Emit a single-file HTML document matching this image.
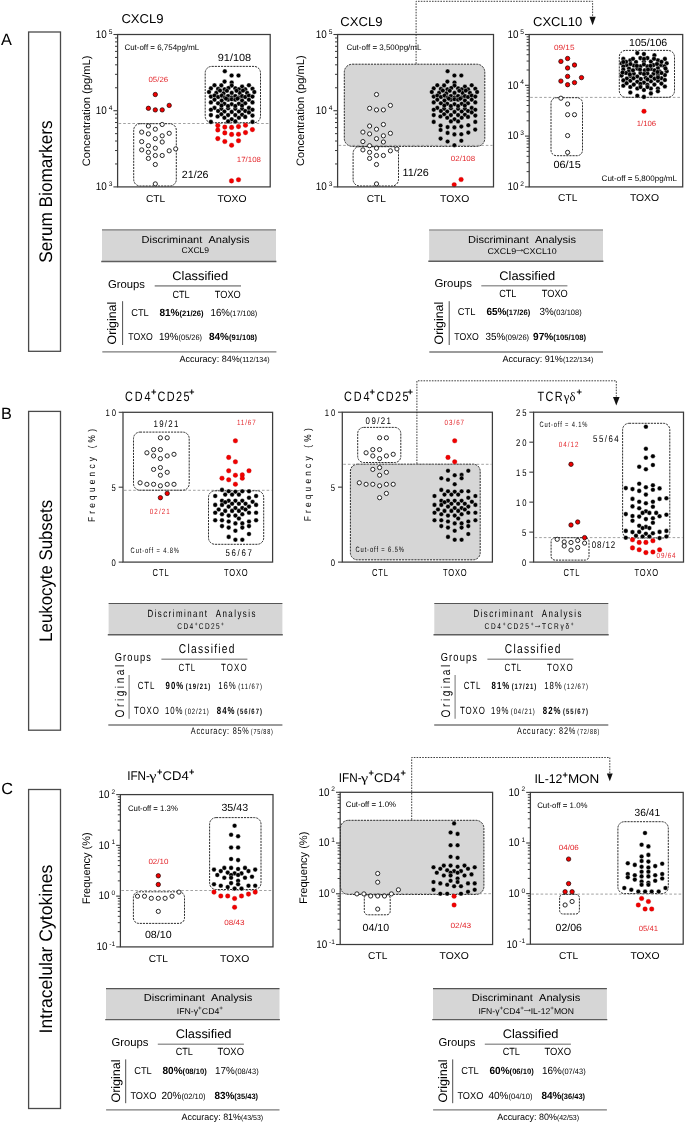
<!DOCTYPE html><html><head><meta charset="utf-8"><style>html,body{margin:0;padding:0;background:#fff;width:685px;height:1124px;overflow:hidden}svg{display:block;will-change:transform}text{font-family:"Liberation Sans", sans-serif;text-rendering:geometricPrecision}</style></head><body>
<svg width="685" height="1124" viewBox="0 0 685 1124">
<rect width="685" height="1124" fill="#fff"/>
<text x="1.00" y="45.10" font-size="16.3">A</text>
<text x="1.00" y="419.40" font-size="16.3">B</text>
<text x="1.20" y="793.90" font-size="16.3">C</text>
<rect x="28.60" y="32.00" width="31.90" height="319.30" fill="none" stroke="#4a4a4a" stroke-width="1.3"/>
<text transform="translate(52.00,191.65) rotate(-90)" x="0" y="0" font-size="18.2" text-anchor="middle" textLength="142.30" lengthAdjust="spacingAndGlyphs">Serum Biomarkers</text>
<rect x="28.60" y="411.40" width="31.90" height="318.80" fill="none" stroke="#4a4a4a" stroke-width="1.3"/>
<text transform="translate(52.00,570.80) rotate(-90)" x="0" y="0" font-size="18.2" text-anchor="middle" textLength="142.00" lengthAdjust="spacingAndGlyphs">Leukocyte Subsets</text>
<rect x="28.60" y="789.50" width="31.90" height="319.00" fill="none" stroke="#4a4a4a" stroke-width="1.3"/>
<text transform="translate(52.00,949.00) rotate(-90)" x="0" y="0" font-size="18.2" text-anchor="middle" textLength="168.80" lengthAdjust="spacingAndGlyphs">Intracelular Cytokines</text>
<text x="121.40" y="22.90" font-size="12.8" textLength="42.20" lengthAdjust="spacingAndGlyphs">CXCL9</text>
<text transform="translate(89.90,110.90) rotate(-90)" x="0" y="0" font-size="10.8" text-anchor="middle" textLength="110.60" lengthAdjust="spacingAndGlyphs">Concentration (pg/mL)</text>
<text x="124.40" y="49.60" font-size="8.0" textLength="74.80" lengthAdjust="spacingAndGlyphs">Cut-off = 6,754pg/mL</text>
<line x1="118.60" y1="123.50" x2="269.20" y2="123.50" stroke="#8a8a8a" stroke-width="0.8" stroke-dasharray="2.6,2"/>
<rect x="133.70" y="123.70" width="42.60" height="62.30" fill="none" stroke="#222" stroke-width="0.95" rx="6.5" stroke-dasharray="2.1,1.0"/>
<rect x="205.20" y="66.40" width="55.30" height="56.30" fill="none" stroke="#222" stroke-width="0.95" rx="6.5" stroke-dasharray="2.1,1.0"/>
<circle cx="148.4" cy="126.0" r="2.1" fill="#fff" stroke="#262626" stroke-width="1.0"/>
<circle cx="155.3" cy="129.2" r="2.1" fill="#fff" stroke="#262626" stroke-width="1.0"/>
<circle cx="162.2" cy="124.5" r="2.1" fill="#fff" stroke="#262626" stroke-width="1.0"/>
<circle cx="141.7" cy="132.1" r="2.1" fill="#fff" stroke="#262626" stroke-width="1.0"/>
<circle cx="148.4" cy="133.9" r="2.1" fill="#fff" stroke="#262626" stroke-width="1.0"/>
<circle cx="162.2" cy="135.8" r="2.1" fill="#fff" stroke="#262626" stroke-width="1.0"/>
<circle cx="169.2" cy="133.3" r="2.1" fill="#fff" stroke="#262626" stroke-width="1.0"/>
<circle cx="155.3" cy="138.7" r="2.1" fill="#fff" stroke="#262626" stroke-width="1.0"/>
<circle cx="141.7" cy="141.6" r="2.1" fill="#fff" stroke="#262626" stroke-width="1.0"/>
<circle cx="162.2" cy="142.0" r="2.1" fill="#fff" stroke="#262626" stroke-width="1.0"/>
<circle cx="148.4" cy="145.7" r="2.1" fill="#fff" stroke="#262626" stroke-width="1.0"/>
<circle cx="155.3" cy="148.2" r="2.1" fill="#fff" stroke="#262626" stroke-width="1.0"/>
<circle cx="141.7" cy="149.9" r="2.1" fill="#fff" stroke="#262626" stroke-width="1.0"/>
<circle cx="169.2" cy="150.8" r="2.1" fill="#fff" stroke="#262626" stroke-width="1.0"/>
<circle cx="175.7" cy="148.9" r="2.1" fill="#fff" stroke="#262626" stroke-width="1.0"/>
<circle cx="148.4" cy="152.3" r="2.1" fill="#fff" stroke="#262626" stroke-width="1.0"/>
<circle cx="155.3" cy="155.5" r="2.1" fill="#fff" stroke="#262626" stroke-width="1.0"/>
<circle cx="162.2" cy="155.5" r="2.1" fill="#fff" stroke="#262626" stroke-width="1.0"/>
<circle cx="148.4" cy="158.4" r="2.1" fill="#fff" stroke="#262626" stroke-width="1.0"/>
<circle cx="155.3" cy="164.5" r="2.1" fill="#fff" stroke="#262626" stroke-width="1.0"/>
<circle cx="155.3" cy="183.9" r="2.1" fill="#fff" stroke="#262626" stroke-width="1.0"/>
<circle cx="155.3" cy="94.5" r="2.2" fill="#f40000" stroke="#1a0000" stroke-width="0.7"/>
<circle cx="148.4" cy="108.3" r="2.2" fill="#f40000" stroke="#1a0000" stroke-width="0.7"/>
<circle cx="155.3" cy="109.9" r="2.2" fill="#f40000" stroke="#1a0000" stroke-width="0.7"/>
<circle cx="162.2" cy="109.9" r="2.2" fill="#f40000" stroke="#1a0000" stroke-width="0.7"/>
<circle cx="169.2" cy="105.4" r="2.2" fill="#f40000" stroke="#1a0000" stroke-width="0.7"/>
<circle cx="224.8" cy="71.2" r="2.3" fill="#000" stroke="#fff" stroke-width="0.35"/>
<circle cx="231.6" cy="75.5" r="2.3" fill="#000" stroke="#fff" stroke-width="0.35"/>
<circle cx="238.5" cy="75.5" r="2.3" fill="#000" stroke="#fff" stroke-width="0.35"/>
<circle cx="224.6" cy="81.6" r="2.3" fill="#000" stroke="#fff" stroke-width="0.35"/>
<circle cx="231.7" cy="82.5" r="2.3" fill="#000" stroke="#fff" stroke-width="0.35"/>
<circle cx="214.5" cy="85.2" r="2.3" fill="#000" stroke="#fff" stroke-width="0.35"/>
<circle cx="221.3" cy="85.4" r="2.3" fill="#000" stroke="#fff" stroke-width="0.35"/>
<circle cx="231.7" cy="85.6" r="2.3" fill="#000" stroke="#fff" stroke-width="0.35"/>
<circle cx="242.1" cy="86.6" r="2.3" fill="#000" stroke="#fff" stroke-width="0.35"/>
<circle cx="248.9" cy="85.2" r="2.3" fill="#000" stroke="#fff" stroke-width="0.35"/>
<circle cx="210.9" cy="88.4" r="2.3" fill="#000" stroke="#fff" stroke-width="0.35"/>
<circle cx="218.1" cy="88.9" r="2.3" fill="#000" stroke="#fff" stroke-width="0.35"/>
<circle cx="224.6" cy="89.3" r="2.3" fill="#000" stroke="#fff" stroke-width="0.35"/>
<circle cx="228.5" cy="88.0" r="2.3" fill="#000" stroke="#fff" stroke-width="0.35"/>
<circle cx="235.3" cy="88.4" r="2.3" fill="#000" stroke="#fff" stroke-width="0.35"/>
<circle cx="238.9" cy="89.3" r="2.3" fill="#000" stroke="#fff" stroke-width="0.35"/>
<circle cx="245.2" cy="89.3" r="2.3" fill="#000" stroke="#fff" stroke-width="0.35"/>
<circle cx="252.5" cy="88.7" r="2.3" fill="#000" stroke="#fff" stroke-width="0.35"/>
<circle cx="209.0" cy="92.0" r="2.3" fill="#000" stroke="#fff" stroke-width="0.35"/>
<circle cx="216.3" cy="92.9" r="2.3" fill="#000" stroke="#fff" stroke-width="0.35"/>
<circle cx="223.5" cy="93.4" r="2.3" fill="#000" stroke="#fff" stroke-width="0.35"/>
<circle cx="231.7" cy="92.9" r="2.3" fill="#000" stroke="#fff" stroke-width="0.35"/>
<circle cx="239.8" cy="92.9" r="2.3" fill="#000" stroke="#fff" stroke-width="0.35"/>
<circle cx="247.1" cy="92.9" r="2.3" fill="#000" stroke="#fff" stroke-width="0.35"/>
<circle cx="254.3" cy="92.0" r="2.3" fill="#000" stroke="#fff" stroke-width="0.35"/>
<circle cx="210.9" cy="96.6" r="2.3" fill="#000" stroke="#fff" stroke-width="0.35"/>
<circle cx="214.5" cy="95.6" r="2.3" fill="#000" stroke="#fff" stroke-width="0.35"/>
<circle cx="218.1" cy="97.0" r="2.3" fill="#000" stroke="#fff" stroke-width="0.35"/>
<circle cx="221.7" cy="95.6" r="2.3" fill="#000" stroke="#fff" stroke-width="0.35"/>
<circle cx="224.9" cy="97.5" r="2.3" fill="#000" stroke="#fff" stroke-width="0.35"/>
<circle cx="228.1" cy="96.1" r="2.3" fill="#000" stroke="#fff" stroke-width="0.35"/>
<circle cx="231.7" cy="97.5" r="2.3" fill="#000" stroke="#fff" stroke-width="0.35"/>
<circle cx="235.3" cy="96.1" r="2.3" fill="#000" stroke="#fff" stroke-width="0.35"/>
<circle cx="238.9" cy="97.5" r="2.3" fill="#000" stroke="#fff" stroke-width="0.35"/>
<circle cx="242.1" cy="96.1" r="2.3" fill="#000" stroke="#fff" stroke-width="0.35"/>
<circle cx="245.2" cy="97.0" r="2.3" fill="#000" stroke="#fff" stroke-width="0.35"/>
<circle cx="248.9" cy="95.6" r="2.3" fill="#000" stroke="#fff" stroke-width="0.35"/>
<circle cx="252.5" cy="96.6" r="2.3" fill="#000" stroke="#fff" stroke-width="0.35"/>
<circle cx="214.5" cy="99.7" r="2.3" fill="#000" stroke="#fff" stroke-width="0.35"/>
<circle cx="221.7" cy="100.6" r="2.3" fill="#000" stroke="#fff" stroke-width="0.35"/>
<circle cx="228.1" cy="99.7" r="2.3" fill="#000" stroke="#fff" stroke-width="0.35"/>
<circle cx="231.7" cy="99.3" r="2.3" fill="#000" stroke="#fff" stroke-width="0.35"/>
<circle cx="235.3" cy="99.7" r="2.3" fill="#000" stroke="#fff" stroke-width="0.35"/>
<circle cx="242.1" cy="100.6" r="2.3" fill="#000" stroke="#fff" stroke-width="0.35"/>
<circle cx="248.9" cy="99.7" r="2.3" fill="#000" stroke="#fff" stroke-width="0.35"/>
<circle cx="210.9" cy="102.4" r="2.3" fill="#000" stroke="#fff" stroke-width="0.35"/>
<circle cx="218.1" cy="103.3" r="2.3" fill="#000" stroke="#fff" stroke-width="0.35"/>
<circle cx="224.4" cy="103.8" r="2.3" fill="#000" stroke="#fff" stroke-width="0.35"/>
<circle cx="231.7" cy="104.2" r="2.3" fill="#000" stroke="#fff" stroke-width="0.35"/>
<circle cx="238.9" cy="103.8" r="2.3" fill="#000" stroke="#fff" stroke-width="0.35"/>
<circle cx="245.2" cy="103.3" r="2.3" fill="#000" stroke="#fff" stroke-width="0.35"/>
<circle cx="252.5" cy="102.4" r="2.3" fill="#000" stroke="#fff" stroke-width="0.35"/>
<circle cx="214.5" cy="107.9" r="2.3" fill="#000" stroke="#fff" stroke-width="0.35"/>
<circle cx="221.3" cy="108.8" r="2.3" fill="#000" stroke="#fff" stroke-width="0.35"/>
<circle cx="228.1" cy="108.3" r="2.3" fill="#000" stroke="#fff" stroke-width="0.35"/>
<circle cx="235.3" cy="108.8" r="2.3" fill="#000" stroke="#fff" stroke-width="0.35"/>
<circle cx="242.1" cy="108.8" r="2.3" fill="#000" stroke="#fff" stroke-width="0.35"/>
<circle cx="248.9" cy="107.9" r="2.3" fill="#000" stroke="#fff" stroke-width="0.35"/>
<circle cx="210.9" cy="109.7" r="2.3" fill="#000" stroke="#fff" stroke-width="0.35"/>
<circle cx="218.1" cy="111.0" r="2.3" fill="#000" stroke="#fff" stroke-width="0.35"/>
<circle cx="224.4" cy="111.5" r="2.3" fill="#000" stroke="#fff" stroke-width="0.35"/>
<circle cx="231.7" cy="111.9" r="2.3" fill="#000" stroke="#fff" stroke-width="0.35"/>
<circle cx="238.9" cy="111.5" r="2.3" fill="#000" stroke="#fff" stroke-width="0.35"/>
<circle cx="245.2" cy="111.0" r="2.3" fill="#000" stroke="#fff" stroke-width="0.35"/>
<circle cx="252.5" cy="109.7" r="2.3" fill="#000" stroke="#fff" stroke-width="0.35"/>
<circle cx="221.3" cy="114.2" r="2.3" fill="#000" stroke="#fff" stroke-width="0.35"/>
<circle cx="228.1" cy="115.1" r="2.3" fill="#000" stroke="#fff" stroke-width="0.35"/>
<circle cx="235.3" cy="115.1" r="2.3" fill="#000" stroke="#fff" stroke-width="0.35"/>
<circle cx="242.1" cy="114.7" r="2.3" fill="#000" stroke="#fff" stroke-width="0.35"/>
<circle cx="248.9" cy="112.4" r="2.3" fill="#000" stroke="#fff" stroke-width="0.35"/>
<circle cx="210.9" cy="115.1" r="2.3" fill="#000" stroke="#fff" stroke-width="0.35"/>
<circle cx="217.6" cy="116.5" r="2.3" fill="#000" stroke="#fff" stroke-width="0.35"/>
<circle cx="224.4" cy="117.8" r="2.3" fill="#000" stroke="#fff" stroke-width="0.35"/>
<circle cx="231.7" cy="119.2" r="2.3" fill="#000" stroke="#fff" stroke-width="0.35"/>
<circle cx="238.9" cy="117.8" r="2.3" fill="#000" stroke="#fff" stroke-width="0.35"/>
<circle cx="245.2" cy="116.9" r="2.3" fill="#000" stroke="#fff" stroke-width="0.35"/>
<circle cx="252.5" cy="115.6" r="2.3" fill="#000" stroke="#fff" stroke-width="0.35"/>
<circle cx="210.9" cy="121.9" r="2.3" fill="#000" stroke="#fff" stroke-width="0.35"/>
<circle cx="228.1" cy="121.4" r="2.3" fill="#000" stroke="#fff" stroke-width="0.35"/>
<circle cx="235.3" cy="121.4" r="2.3" fill="#000" stroke="#fff" stroke-width="0.35"/>
<circle cx="252.5" cy="121.9" r="2.3" fill="#000" stroke="#fff" stroke-width="0.35"/>
<circle cx="226.9" cy="90.8" r="2.3" fill="#000" stroke="#fff" stroke-width="0.35"/>
<circle cx="236.5" cy="90.8" r="2.3" fill="#000" stroke="#fff" stroke-width="0.35"/>
<circle cx="220.0" cy="90.6" r="2.3" fill="#000" stroke="#fff" stroke-width="0.35"/>
<circle cx="243.0" cy="90.6" r="2.3" fill="#000" stroke="#fff" stroke-width="0.35"/>
<circle cx="226.0" cy="98.6" r="2.3" fill="#000" stroke="#fff" stroke-width="0.35"/>
<circle cx="237.5" cy="98.6" r="2.3" fill="#000" stroke="#fff" stroke-width="0.35"/>
<circle cx="228.0" cy="106.0" r="2.3" fill="#000" stroke="#fff" stroke-width="0.35"/>
<circle cx="235.3" cy="106.0" r="2.3" fill="#000" stroke="#fff" stroke-width="0.35"/>
<circle cx="221.5" cy="105.6" r="2.3" fill="#000" stroke="#fff" stroke-width="0.35"/>
<circle cx="242.0" cy="105.6" r="2.3" fill="#000" stroke="#fff" stroke-width="0.35"/>
<circle cx="217.8" cy="125.6" r="2.3" fill="#f20000" stroke="#b00000" stroke-width="0.3"/>
<circle cx="224.8" cy="127.1" r="2.3" fill="#f20000" stroke="#b00000" stroke-width="0.3"/>
<circle cx="231.6" cy="127.4" r="2.3" fill="#f20000" stroke="#b00000" stroke-width="0.3"/>
<circle cx="238.5" cy="126.6" r="2.3" fill="#f20000" stroke="#b00000" stroke-width="0.3"/>
<circle cx="245.5" cy="125.2" r="2.3" fill="#f20000" stroke="#b00000" stroke-width="0.3"/>
<circle cx="217.8" cy="130.0" r="2.3" fill="#f20000" stroke="#b00000" stroke-width="0.3"/>
<circle cx="252.4" cy="129.6" r="2.3" fill="#f20000" stroke="#b00000" stroke-width="0.3"/>
<circle cx="224.8" cy="132.9" r="2.3" fill="#f20000" stroke="#b00000" stroke-width="0.3"/>
<circle cx="231.6" cy="134.4" r="2.3" fill="#f20000" stroke="#b00000" stroke-width="0.3"/>
<circle cx="238.5" cy="134.2" r="2.3" fill="#f20000" stroke="#b00000" stroke-width="0.3"/>
<circle cx="245.5" cy="132.6" r="2.3" fill="#f20000" stroke="#b00000" stroke-width="0.3"/>
<circle cx="217.8" cy="138.6" r="2.3" fill="#f20000" stroke="#b00000" stroke-width="0.3"/>
<circle cx="224.8" cy="141.5" r="2.3" fill="#f20000" stroke="#b00000" stroke-width="0.3"/>
<circle cx="231.6" cy="145.2" r="2.3" fill="#f20000" stroke="#b00000" stroke-width="0.3"/>
<circle cx="238.5" cy="140.7" r="2.3" fill="#f20000" stroke="#b00000" stroke-width="0.3"/>
<circle cx="231.5" cy="180.9" r="2.3" fill="#f20000" stroke="#b00000" stroke-width="0.3"/>
<circle cx="238.5" cy="179.7" r="2.3" fill="#f20000" stroke="#b00000" stroke-width="0.3"/>
<text x="217.80" y="61.00" font-size="10.3" textLength="33.40" lengthAdjust="spacingAndGlyphs">91/108</text>
<text x="148.50" y="82.00" font-size="7.5" fill="#e3262b" textLength="19.60" lengthAdjust="spacingAndGlyphs">05/26</text>
<text x="181.80" y="177.70" font-size="10.5" textLength="26.70" lengthAdjust="spacingAndGlyphs">21/26</text>
<text x="236.80" y="162.00" font-size="7.5" fill="#e3262b" textLength="24.20" lengthAdjust="spacingAndGlyphs">17/108</text>
<rect x="117.60" y="34.50" width="152.60" height="152.40" fill="none" stroke="#3c3c3c" stroke-width="1.25"/>
<line x1="113.40" y1="186.90" x2="117.60" y2="186.90" stroke="#3c3c3c" stroke-width="1.1"/>
<text x="112.30" y="185.90" font-size="6.6" text-anchor="end">3</text>
<text x="106.80" y="190.20" font-size="11.0" text-anchor="end" textLength="11.00" lengthAdjust="spacingAndGlyphs">10</text>
<line x1="115.00" y1="163.96" x2="117.60" y2="163.96" stroke="#3c3c3c" stroke-width="1.0"/>
<line x1="115.00" y1="150.54" x2="117.60" y2="150.54" stroke="#3c3c3c" stroke-width="1.0"/>
<line x1="115.00" y1="141.02" x2="117.60" y2="141.02" stroke="#3c3c3c" stroke-width="1.0"/>
<line x1="115.00" y1="133.64" x2="117.60" y2="133.64" stroke="#3c3c3c" stroke-width="1.0"/>
<line x1="115.00" y1="127.60" x2="117.60" y2="127.60" stroke="#3c3c3c" stroke-width="1.0"/>
<line x1="115.00" y1="122.50" x2="117.60" y2="122.50" stroke="#3c3c3c" stroke-width="1.0"/>
<line x1="115.00" y1="118.08" x2="117.60" y2="118.08" stroke="#3c3c3c" stroke-width="1.0"/>
<line x1="115.00" y1="114.19" x2="117.60" y2="114.19" stroke="#3c3c3c" stroke-width="1.0"/>
<line x1="113.40" y1="110.70" x2="117.60" y2="110.70" stroke="#3c3c3c" stroke-width="1.1"/>
<text x="112.30" y="109.70" font-size="6.6" text-anchor="end">4</text>
<text x="106.80" y="114.00" font-size="11.0" text-anchor="end" textLength="11.00" lengthAdjust="spacingAndGlyphs">10</text>
<line x1="115.00" y1="87.76" x2="117.60" y2="87.76" stroke="#3c3c3c" stroke-width="1.0"/>
<line x1="115.00" y1="74.34" x2="117.60" y2="74.34" stroke="#3c3c3c" stroke-width="1.0"/>
<line x1="115.00" y1="64.82" x2="117.60" y2="64.82" stroke="#3c3c3c" stroke-width="1.0"/>
<line x1="115.00" y1="57.44" x2="117.60" y2="57.44" stroke="#3c3c3c" stroke-width="1.0"/>
<line x1="115.00" y1="51.40" x2="117.60" y2="51.40" stroke="#3c3c3c" stroke-width="1.0"/>
<line x1="115.00" y1="46.30" x2="117.60" y2="46.30" stroke="#3c3c3c" stroke-width="1.0"/>
<line x1="115.00" y1="41.88" x2="117.60" y2="41.88" stroke="#3c3c3c" stroke-width="1.0"/>
<line x1="115.00" y1="37.99" x2="117.60" y2="37.99" stroke="#3c3c3c" stroke-width="1.0"/>
<line x1="113.40" y1="34.50" x2="117.60" y2="34.50" stroke="#3c3c3c" stroke-width="1.1"/>
<text x="112.30" y="33.50" font-size="6.6" text-anchor="end">5</text>
<text x="106.80" y="37.80" font-size="11.0" text-anchor="end" textLength="11.00" lengthAdjust="spacingAndGlyphs">10</text>
<text x="155.50" y="201.60" font-size="10" text-anchor="middle" textLength="19.20" lengthAdjust="spacingAndGlyphs">CTL</text>
<text x="232.00" y="201.60" font-size="10" text-anchor="middle" textLength="29.20" lengthAdjust="spacingAndGlyphs">TOXO</text>
<rect x="344.30" y="64.20" width="140.50" height="82.20" fill="#d6d6d6" stroke="#222" stroke-width="0.95" rx="8" stroke-dasharray="2.1,1.0"/>
<text x="340.30" y="26.00" font-size="12.8" textLength="42.20" lengthAdjust="spacingAndGlyphs">CXCL9</text>
<text transform="translate(303.80,110.70) rotate(-90)" x="0" y="0" font-size="10.8" text-anchor="middle" textLength="110.60" lengthAdjust="spacingAndGlyphs">Concentration (pg/mL)</text>
<text x="346.40" y="49.60" font-size="8.0" textLength="75.00" lengthAdjust="spacingAndGlyphs">Cut-off = 3,500pg/mL</text>
<line x1="338.60" y1="145.40" x2="492.50" y2="145.40" stroke="#8a8a8a" stroke-width="0.8" stroke-dasharray="2.6,2"/>
<rect x="353.10" y="146.70" width="45.40" height="39.30" fill="none" stroke="#222" stroke-width="0.95" rx="6.5" stroke-dasharray="2.1,1.0"/>
<circle cx="369.6" cy="126.0" r="2.1" fill="#fff" stroke="#262626" stroke-width="1.0"/>
<circle cx="376.5" cy="129.2" r="2.1" fill="#fff" stroke="#262626" stroke-width="1.0"/>
<circle cx="383.4" cy="124.5" r="2.1" fill="#fff" stroke="#262626" stroke-width="1.0"/>
<circle cx="362.9" cy="132.1" r="2.1" fill="#fff" stroke="#262626" stroke-width="1.0"/>
<circle cx="369.6" cy="133.9" r="2.1" fill="#fff" stroke="#262626" stroke-width="1.0"/>
<circle cx="383.4" cy="135.8" r="2.1" fill="#fff" stroke="#262626" stroke-width="1.0"/>
<circle cx="390.4" cy="133.3" r="2.1" fill="#fff" stroke="#262626" stroke-width="1.0"/>
<circle cx="376.5" cy="138.7" r="2.1" fill="#fff" stroke="#262626" stroke-width="1.0"/>
<circle cx="362.9" cy="141.6" r="2.1" fill="#fff" stroke="#262626" stroke-width="1.0"/>
<circle cx="383.4" cy="142.0" r="2.1" fill="#fff" stroke="#262626" stroke-width="1.0"/>
<circle cx="369.6" cy="145.7" r="2.1" fill="#fff" stroke="#262626" stroke-width="1.0"/>
<circle cx="376.5" cy="148.2" r="2.1" fill="#fff" stroke="#262626" stroke-width="1.0"/>
<circle cx="362.9" cy="149.9" r="2.1" fill="#fff" stroke="#262626" stroke-width="1.0"/>
<circle cx="390.4" cy="150.8" r="2.1" fill="#fff" stroke="#262626" stroke-width="1.0"/>
<circle cx="396.9" cy="148.9" r="2.1" fill="#fff" stroke="#262626" stroke-width="1.0"/>
<circle cx="369.6" cy="152.3" r="2.1" fill="#fff" stroke="#262626" stroke-width="1.0"/>
<circle cx="376.5" cy="155.5" r="2.1" fill="#fff" stroke="#262626" stroke-width="1.0"/>
<circle cx="383.4" cy="155.5" r="2.1" fill="#fff" stroke="#262626" stroke-width="1.0"/>
<circle cx="369.6" cy="158.4" r="2.1" fill="#fff" stroke="#262626" stroke-width="1.0"/>
<circle cx="376.5" cy="164.5" r="2.1" fill="#fff" stroke="#262626" stroke-width="1.0"/>
<circle cx="376.5" cy="183.9" r="2.1" fill="#fff" stroke="#262626" stroke-width="1.0"/>
<circle cx="376.5" cy="94.5" r="2.1" fill="#fff" stroke="#262626" stroke-width="1.0"/>
<circle cx="369.6" cy="108.3" r="2.1" fill="#fff" stroke="#262626" stroke-width="1.0"/>
<circle cx="376.5" cy="109.9" r="2.1" fill="#fff" stroke="#262626" stroke-width="1.0"/>
<circle cx="383.4" cy="109.9" r="2.1" fill="#fff" stroke="#262626" stroke-width="1.0"/>
<circle cx="390.4" cy="105.4" r="2.1" fill="#fff" stroke="#262626" stroke-width="1.0"/>
<circle cx="447.6" cy="71.2" r="2.3" fill="#000" stroke="#fff" stroke-width="0.35"/>
<circle cx="454.4" cy="75.5" r="2.3" fill="#000" stroke="#fff" stroke-width="0.35"/>
<circle cx="461.3" cy="75.5" r="2.3" fill="#000" stroke="#fff" stroke-width="0.35"/>
<circle cx="447.4" cy="81.6" r="2.3" fill="#000" stroke="#fff" stroke-width="0.35"/>
<circle cx="454.5" cy="82.5" r="2.3" fill="#000" stroke="#fff" stroke-width="0.35"/>
<circle cx="437.3" cy="85.2" r="2.3" fill="#000" stroke="#fff" stroke-width="0.35"/>
<circle cx="444.1" cy="85.4" r="2.3" fill="#000" stroke="#fff" stroke-width="0.35"/>
<circle cx="454.5" cy="85.6" r="2.3" fill="#000" stroke="#fff" stroke-width="0.35"/>
<circle cx="464.9" cy="86.6" r="2.3" fill="#000" stroke="#fff" stroke-width="0.35"/>
<circle cx="471.7" cy="85.2" r="2.3" fill="#000" stroke="#fff" stroke-width="0.35"/>
<circle cx="433.7" cy="88.4" r="2.3" fill="#000" stroke="#fff" stroke-width="0.35"/>
<circle cx="440.9" cy="88.9" r="2.3" fill="#000" stroke="#fff" stroke-width="0.35"/>
<circle cx="447.4" cy="89.3" r="2.3" fill="#000" stroke="#fff" stroke-width="0.35"/>
<circle cx="451.3" cy="88.0" r="2.3" fill="#000" stroke="#fff" stroke-width="0.35"/>
<circle cx="458.1" cy="88.4" r="2.3" fill="#000" stroke="#fff" stroke-width="0.35"/>
<circle cx="461.7" cy="89.3" r="2.3" fill="#000" stroke="#fff" stroke-width="0.35"/>
<circle cx="468.0" cy="89.3" r="2.3" fill="#000" stroke="#fff" stroke-width="0.35"/>
<circle cx="475.3" cy="88.7" r="2.3" fill="#000" stroke="#fff" stroke-width="0.35"/>
<circle cx="431.8" cy="92.0" r="2.3" fill="#000" stroke="#fff" stroke-width="0.35"/>
<circle cx="439.1" cy="92.9" r="2.3" fill="#000" stroke="#fff" stroke-width="0.35"/>
<circle cx="446.3" cy="93.4" r="2.3" fill="#000" stroke="#fff" stroke-width="0.35"/>
<circle cx="454.5" cy="92.9" r="2.3" fill="#000" stroke="#fff" stroke-width="0.35"/>
<circle cx="462.6" cy="92.9" r="2.3" fill="#000" stroke="#fff" stroke-width="0.35"/>
<circle cx="469.9" cy="92.9" r="2.3" fill="#000" stroke="#fff" stroke-width="0.35"/>
<circle cx="477.1" cy="92.0" r="2.3" fill="#000" stroke="#fff" stroke-width="0.35"/>
<circle cx="433.7" cy="96.6" r="2.3" fill="#000" stroke="#fff" stroke-width="0.35"/>
<circle cx="437.3" cy="95.6" r="2.3" fill="#000" stroke="#fff" stroke-width="0.35"/>
<circle cx="440.9" cy="97.0" r="2.3" fill="#000" stroke="#fff" stroke-width="0.35"/>
<circle cx="444.5" cy="95.6" r="2.3" fill="#000" stroke="#fff" stroke-width="0.35"/>
<circle cx="447.7" cy="97.5" r="2.3" fill="#000" stroke="#fff" stroke-width="0.35"/>
<circle cx="450.9" cy="96.1" r="2.3" fill="#000" stroke="#fff" stroke-width="0.35"/>
<circle cx="454.5" cy="97.5" r="2.3" fill="#000" stroke="#fff" stroke-width="0.35"/>
<circle cx="458.1" cy="96.1" r="2.3" fill="#000" stroke="#fff" stroke-width="0.35"/>
<circle cx="461.7" cy="97.5" r="2.3" fill="#000" stroke="#fff" stroke-width="0.35"/>
<circle cx="464.9" cy="96.1" r="2.3" fill="#000" stroke="#fff" stroke-width="0.35"/>
<circle cx="468.0" cy="97.0" r="2.3" fill="#000" stroke="#fff" stroke-width="0.35"/>
<circle cx="471.7" cy="95.6" r="2.3" fill="#000" stroke="#fff" stroke-width="0.35"/>
<circle cx="475.3" cy="96.6" r="2.3" fill="#000" stroke="#fff" stroke-width="0.35"/>
<circle cx="437.3" cy="99.7" r="2.3" fill="#000" stroke="#fff" stroke-width="0.35"/>
<circle cx="444.5" cy="100.6" r="2.3" fill="#000" stroke="#fff" stroke-width="0.35"/>
<circle cx="450.9" cy="99.7" r="2.3" fill="#000" stroke="#fff" stroke-width="0.35"/>
<circle cx="454.5" cy="99.3" r="2.3" fill="#000" stroke="#fff" stroke-width="0.35"/>
<circle cx="458.1" cy="99.7" r="2.3" fill="#000" stroke="#fff" stroke-width="0.35"/>
<circle cx="464.9" cy="100.6" r="2.3" fill="#000" stroke="#fff" stroke-width="0.35"/>
<circle cx="471.7" cy="99.7" r="2.3" fill="#000" stroke="#fff" stroke-width="0.35"/>
<circle cx="433.7" cy="102.4" r="2.3" fill="#000" stroke="#fff" stroke-width="0.35"/>
<circle cx="440.9" cy="103.3" r="2.3" fill="#000" stroke="#fff" stroke-width="0.35"/>
<circle cx="447.2" cy="103.8" r="2.3" fill="#000" stroke="#fff" stroke-width="0.35"/>
<circle cx="454.5" cy="104.2" r="2.3" fill="#000" stroke="#fff" stroke-width="0.35"/>
<circle cx="461.7" cy="103.8" r="2.3" fill="#000" stroke="#fff" stroke-width="0.35"/>
<circle cx="468.0" cy="103.3" r="2.3" fill="#000" stroke="#fff" stroke-width="0.35"/>
<circle cx="475.3" cy="102.4" r="2.3" fill="#000" stroke="#fff" stroke-width="0.35"/>
<circle cx="437.3" cy="107.9" r="2.3" fill="#000" stroke="#fff" stroke-width="0.35"/>
<circle cx="444.1" cy="108.8" r="2.3" fill="#000" stroke="#fff" stroke-width="0.35"/>
<circle cx="450.9" cy="108.3" r="2.3" fill="#000" stroke="#fff" stroke-width="0.35"/>
<circle cx="458.1" cy="108.8" r="2.3" fill="#000" stroke="#fff" stroke-width="0.35"/>
<circle cx="464.9" cy="108.8" r="2.3" fill="#000" stroke="#fff" stroke-width="0.35"/>
<circle cx="471.7" cy="107.9" r="2.3" fill="#000" stroke="#fff" stroke-width="0.35"/>
<circle cx="433.7" cy="109.7" r="2.3" fill="#000" stroke="#fff" stroke-width="0.35"/>
<circle cx="440.9" cy="111.0" r="2.3" fill="#000" stroke="#fff" stroke-width="0.35"/>
<circle cx="447.2" cy="111.5" r="2.3" fill="#000" stroke="#fff" stroke-width="0.35"/>
<circle cx="454.5" cy="111.9" r="2.3" fill="#000" stroke="#fff" stroke-width="0.35"/>
<circle cx="461.7" cy="111.5" r="2.3" fill="#000" stroke="#fff" stroke-width="0.35"/>
<circle cx="468.0" cy="111.0" r="2.3" fill="#000" stroke="#fff" stroke-width="0.35"/>
<circle cx="475.3" cy="109.7" r="2.3" fill="#000" stroke="#fff" stroke-width="0.35"/>
<circle cx="444.1" cy="114.2" r="2.3" fill="#000" stroke="#fff" stroke-width="0.35"/>
<circle cx="450.9" cy="115.1" r="2.3" fill="#000" stroke="#fff" stroke-width="0.35"/>
<circle cx="458.1" cy="115.1" r="2.3" fill="#000" stroke="#fff" stroke-width="0.35"/>
<circle cx="464.9" cy="114.7" r="2.3" fill="#000" stroke="#fff" stroke-width="0.35"/>
<circle cx="471.7" cy="112.4" r="2.3" fill="#000" stroke="#fff" stroke-width="0.35"/>
<circle cx="433.7" cy="115.1" r="2.3" fill="#000" stroke="#fff" stroke-width="0.35"/>
<circle cx="440.4" cy="116.5" r="2.3" fill="#000" stroke="#fff" stroke-width="0.35"/>
<circle cx="447.2" cy="117.8" r="2.3" fill="#000" stroke="#fff" stroke-width="0.35"/>
<circle cx="454.5" cy="119.2" r="2.3" fill="#000" stroke="#fff" stroke-width="0.35"/>
<circle cx="461.7" cy="117.8" r="2.3" fill="#000" stroke="#fff" stroke-width="0.35"/>
<circle cx="468.0" cy="116.9" r="2.3" fill="#000" stroke="#fff" stroke-width="0.35"/>
<circle cx="475.3" cy="115.6" r="2.3" fill="#000" stroke="#fff" stroke-width="0.35"/>
<circle cx="433.7" cy="121.9" r="2.3" fill="#000" stroke="#fff" stroke-width="0.35"/>
<circle cx="450.9" cy="121.4" r="2.3" fill="#000" stroke="#fff" stroke-width="0.35"/>
<circle cx="458.1" cy="121.4" r="2.3" fill="#000" stroke="#fff" stroke-width="0.35"/>
<circle cx="475.3" cy="121.9" r="2.3" fill="#000" stroke="#fff" stroke-width="0.35"/>
<circle cx="449.7" cy="90.8" r="2.3" fill="#000" stroke="#fff" stroke-width="0.35"/>
<circle cx="459.3" cy="90.8" r="2.3" fill="#000" stroke="#fff" stroke-width="0.35"/>
<circle cx="442.8" cy="90.6" r="2.3" fill="#000" stroke="#fff" stroke-width="0.35"/>
<circle cx="465.8" cy="90.6" r="2.3" fill="#000" stroke="#fff" stroke-width="0.35"/>
<circle cx="448.8" cy="98.6" r="2.3" fill="#000" stroke="#fff" stroke-width="0.35"/>
<circle cx="460.3" cy="98.6" r="2.3" fill="#000" stroke="#fff" stroke-width="0.35"/>
<circle cx="450.8" cy="106.0" r="2.3" fill="#000" stroke="#fff" stroke-width="0.35"/>
<circle cx="458.1" cy="106.0" r="2.3" fill="#000" stroke="#fff" stroke-width="0.35"/>
<circle cx="444.3" cy="105.6" r="2.3" fill="#000" stroke="#fff" stroke-width="0.35"/>
<circle cx="464.8" cy="105.6" r="2.3" fill="#000" stroke="#fff" stroke-width="0.35"/>
<circle cx="440.6" cy="125.6" r="2.3" fill="#000" stroke="#fff" stroke-width="0.35"/>
<circle cx="447.6" cy="127.1" r="2.3" fill="#000" stroke="#fff" stroke-width="0.35"/>
<circle cx="454.4" cy="127.4" r="2.3" fill="#000" stroke="#fff" stroke-width="0.35"/>
<circle cx="461.3" cy="126.6" r="2.3" fill="#000" stroke="#fff" stroke-width="0.35"/>
<circle cx="468.3" cy="125.2" r="2.3" fill="#000" stroke="#fff" stroke-width="0.35"/>
<circle cx="440.6" cy="130.0" r="2.3" fill="#000" stroke="#fff" stroke-width="0.35"/>
<circle cx="475.2" cy="129.6" r="2.3" fill="#000" stroke="#fff" stroke-width="0.35"/>
<circle cx="447.6" cy="132.9" r="2.3" fill="#000" stroke="#fff" stroke-width="0.35"/>
<circle cx="454.4" cy="134.4" r="2.3" fill="#000" stroke="#fff" stroke-width="0.35"/>
<circle cx="461.3" cy="134.2" r="2.3" fill="#000" stroke="#fff" stroke-width="0.35"/>
<circle cx="468.3" cy="132.6" r="2.3" fill="#000" stroke="#fff" stroke-width="0.35"/>
<circle cx="440.6" cy="138.6" r="2.3" fill="#000" stroke="#fff" stroke-width="0.35"/>
<circle cx="447.6" cy="141.5" r="2.3" fill="#000" stroke="#fff" stroke-width="0.35"/>
<circle cx="454.4" cy="145.2" r="2.3" fill="#000" stroke="#fff" stroke-width="0.35"/>
<circle cx="461.3" cy="140.7" r="2.3" fill="#000" stroke="#fff" stroke-width="0.35"/>
<circle cx="454.2" cy="184.7" r="2.3" fill="#f20000" stroke="#b00000" stroke-width="0.3"/>
<circle cx="461.1" cy="179.5" r="2.3" fill="#f20000" stroke="#b00000" stroke-width="0.3"/>
<text x="402.60" y="176.40" font-size="10.5" textLength="26.30" lengthAdjust="spacingAndGlyphs">11/26</text>
<text x="450.80" y="161.40" font-size="7.5" fill="#e3262b" textLength="24.40" lengthAdjust="spacingAndGlyphs">02/108</text>
<rect x="337.60" y="34.50" width="155.90" height="152.40" fill="none" stroke="#3c3c3c" stroke-width="1.25"/>
<line x1="333.40" y1="186.90" x2="337.60" y2="186.90" stroke="#3c3c3c" stroke-width="1.1"/>
<text x="332.30" y="185.90" font-size="6.6" text-anchor="end">3</text>
<text x="326.80" y="190.20" font-size="11.0" text-anchor="end" textLength="11.00" lengthAdjust="spacingAndGlyphs">10</text>
<line x1="335.00" y1="163.96" x2="337.60" y2="163.96" stroke="#3c3c3c" stroke-width="1.0"/>
<line x1="335.00" y1="150.54" x2="337.60" y2="150.54" stroke="#3c3c3c" stroke-width="1.0"/>
<line x1="335.00" y1="141.02" x2="337.60" y2="141.02" stroke="#3c3c3c" stroke-width="1.0"/>
<line x1="335.00" y1="133.64" x2="337.60" y2="133.64" stroke="#3c3c3c" stroke-width="1.0"/>
<line x1="335.00" y1="127.60" x2="337.60" y2="127.60" stroke="#3c3c3c" stroke-width="1.0"/>
<line x1="335.00" y1="122.50" x2="337.60" y2="122.50" stroke="#3c3c3c" stroke-width="1.0"/>
<line x1="335.00" y1="118.08" x2="337.60" y2="118.08" stroke="#3c3c3c" stroke-width="1.0"/>
<line x1="335.00" y1="114.19" x2="337.60" y2="114.19" stroke="#3c3c3c" stroke-width="1.0"/>
<line x1="333.40" y1="110.70" x2="337.60" y2="110.70" stroke="#3c3c3c" stroke-width="1.1"/>
<text x="332.30" y="109.70" font-size="6.6" text-anchor="end">4</text>
<text x="326.80" y="114.00" font-size="11.0" text-anchor="end" textLength="11.00" lengthAdjust="spacingAndGlyphs">10</text>
<line x1="335.00" y1="87.76" x2="337.60" y2="87.76" stroke="#3c3c3c" stroke-width="1.0"/>
<line x1="335.00" y1="74.34" x2="337.60" y2="74.34" stroke="#3c3c3c" stroke-width="1.0"/>
<line x1="335.00" y1="64.82" x2="337.60" y2="64.82" stroke="#3c3c3c" stroke-width="1.0"/>
<line x1="335.00" y1="57.44" x2="337.60" y2="57.44" stroke="#3c3c3c" stroke-width="1.0"/>
<line x1="335.00" y1="51.40" x2="337.60" y2="51.40" stroke="#3c3c3c" stroke-width="1.0"/>
<line x1="335.00" y1="46.30" x2="337.60" y2="46.30" stroke="#3c3c3c" stroke-width="1.0"/>
<line x1="335.00" y1="41.88" x2="337.60" y2="41.88" stroke="#3c3c3c" stroke-width="1.0"/>
<line x1="335.00" y1="37.99" x2="337.60" y2="37.99" stroke="#3c3c3c" stroke-width="1.0"/>
<line x1="333.40" y1="34.50" x2="337.60" y2="34.50" stroke="#3c3c3c" stroke-width="1.1"/>
<text x="332.30" y="33.50" font-size="6.6" text-anchor="end">5</text>
<text x="326.80" y="37.80" font-size="11.0" text-anchor="end" textLength="11.00" lengthAdjust="spacingAndGlyphs">10</text>
<text x="376.30" y="201.60" font-size="10" text-anchor="middle" textLength="19.20" lengthAdjust="spacingAndGlyphs">CTL</text>
<text x="454.60" y="201.60" font-size="10" text-anchor="middle" textLength="29.20" lengthAdjust="spacingAndGlyphs">TOXO</text>
<path d="M416.10,63.80 L416.10,1.30 L592.60,1.30 L592.60,16.60" fill="none" stroke="#2a2a2a" stroke-width="0.9" stroke-dasharray="1.6,1.2"/>
<path d="M589.50,16.80 L595.70,16.80 L592.60,25.20 Z" fill="#111"/>
<text x="533.00" y="25.50" font-size="12.8" textLength="49.30" lengthAdjust="spacingAndGlyphs">CXCL10</text>
<text x="601.60" y="180.80" font-size="8.0" textLength="75.40" lengthAdjust="spacingAndGlyphs">Cut-off = 5,800pg/mL</text>
<line x1="530.20" y1="97.40" x2="681.70" y2="97.40" stroke="#8a8a8a" stroke-width="0.8" stroke-dasharray="2.6,2"/>
<rect x="551.00" y="97.70" width="31.50" height="58.00" fill="none" stroke="#222" stroke-width="0.95" rx="5.46" stroke-dasharray="2.1,1.0"/>
<rect x="619.30" y="50.40" width="55.20" height="46.90" fill="none" stroke="#222" stroke-width="0.95" rx="6.5" stroke-dasharray="2.1,1.0"/>
<circle cx="560.9" cy="98.2" r="2.1" fill="#fff" stroke="#262626" stroke-width="1.0"/>
<circle cx="567.6" cy="104.0" r="2.1" fill="#fff" stroke="#262626" stroke-width="1.0"/>
<circle cx="567.6" cy="114.7" r="2.1" fill="#fff" stroke="#262626" stroke-width="1.0"/>
<circle cx="574.5" cy="114.7" r="2.1" fill="#fff" stroke="#262626" stroke-width="1.0"/>
<circle cx="567.6" cy="135.6" r="2.1" fill="#fff" stroke="#262626" stroke-width="1.0"/>
<circle cx="567.6" cy="152.4" r="2.1" fill="#fff" stroke="#262626" stroke-width="1.0"/>
<circle cx="560.9" cy="61.4" r="2.2" fill="#f40000" stroke="#1a0000" stroke-width="0.7"/>
<circle cx="567.6" cy="58.5" r="2.2" fill="#f40000" stroke="#1a0000" stroke-width="0.7"/>
<circle cx="574.5" cy="65.0" r="2.2" fill="#f40000" stroke="#1a0000" stroke-width="0.7"/>
<circle cx="567.6" cy="68.0" r="2.2" fill="#f40000" stroke="#1a0000" stroke-width="0.7"/>
<circle cx="567.6" cy="76.4" r="2.2" fill="#f40000" stroke="#1a0000" stroke-width="0.7"/>
<circle cx="581.5" cy="77.6" r="2.2" fill="#f40000" stroke="#1a0000" stroke-width="0.7"/>
<circle cx="560.9" cy="81.1" r="2.2" fill="#f40000" stroke="#1a0000" stroke-width="0.7"/>
<circle cx="574.5" cy="82.6" r="2.2" fill="#f40000" stroke="#1a0000" stroke-width="0.7"/>
<circle cx="567.6" cy="84.7" r="2.2" fill="#f40000" stroke="#1a0000" stroke-width="0.7"/>
<circle cx="637.3" cy="53.1" r="2.3" fill="#000" stroke="#fff" stroke-width="0.35"/>
<circle cx="643.9" cy="54.0" r="2.3" fill="#000" stroke="#fff" stroke-width="0.35"/>
<circle cx="654.4" cy="55.2" r="2.3" fill="#000" stroke="#fff" stroke-width="0.35"/>
<circle cx="623.3" cy="58.9" r="2.3" fill="#000" stroke="#fff" stroke-width="0.35"/>
<circle cx="630.3" cy="60.3" r="2.3" fill="#000" stroke="#fff" stroke-width="0.35"/>
<circle cx="640.4" cy="58.1" r="2.3" fill="#000" stroke="#fff" stroke-width="0.35"/>
<circle cx="647.4" cy="58.1" r="2.3" fill="#000" stroke="#fff" stroke-width="0.35"/>
<circle cx="657.9" cy="60.3" r="2.3" fill="#000" stroke="#fff" stroke-width="0.35"/>
<circle cx="664.9" cy="58.9" r="2.3" fill="#000" stroke="#fff" stroke-width="0.35"/>
<circle cx="636.0" cy="62.0" r="2.3" fill="#000" stroke="#fff" stroke-width="0.35"/>
<circle cx="643.9" cy="61.6" r="2.3" fill="#000" stroke="#fff" stroke-width="0.35"/>
<circle cx="650.9" cy="61.6" r="2.3" fill="#000" stroke="#fff" stroke-width="0.35"/>
<circle cx="621.6" cy="63.3" r="2.3" fill="#000" stroke="#fff" stroke-width="0.35"/>
<circle cx="666.7" cy="63.3" r="2.3" fill="#000" stroke="#fff" stroke-width="0.35"/>
<circle cx="626.8" cy="65.1" r="2.3" fill="#000" stroke="#fff" stroke-width="0.35"/>
<circle cx="633.8" cy="65.5" r="2.3" fill="#000" stroke="#fff" stroke-width="0.35"/>
<circle cx="640.4" cy="66.4" r="2.3" fill="#000" stroke="#fff" stroke-width="0.35"/>
<circle cx="647.4" cy="66.4" r="2.3" fill="#000" stroke="#fff" stroke-width="0.35"/>
<circle cx="653.5" cy="65.1" r="2.3" fill="#000" stroke="#fff" stroke-width="0.35"/>
<circle cx="661.0" cy="65.1" r="2.3" fill="#000" stroke="#fff" stroke-width="0.35"/>
<circle cx="664.5" cy="66.4" r="2.3" fill="#000" stroke="#fff" stroke-width="0.35"/>
<circle cx="623.3" cy="66.4" r="2.3" fill="#000" stroke="#fff" stroke-width="0.35"/>
<circle cx="637.3" cy="68.6" r="2.3" fill="#000" stroke="#fff" stroke-width="0.35"/>
<circle cx="650.9" cy="69.0" r="2.3" fill="#000" stroke="#fff" stroke-width="0.35"/>
<circle cx="629.0" cy="68.6" r="2.3" fill="#000" stroke="#fff" stroke-width="0.35"/>
<circle cx="657.9" cy="68.1" r="2.3" fill="#000" stroke="#fff" stroke-width="0.35"/>
<circle cx="623.3" cy="69.5" r="2.3" fill="#000" stroke="#fff" stroke-width="0.35"/>
<circle cx="666.7" cy="71.2" r="2.3" fill="#000" stroke="#fff" stroke-width="0.35"/>
<circle cx="644.8" cy="70.3" r="2.3" fill="#000" stroke="#fff" stroke-width="0.35"/>
<circle cx="628.6" cy="71.6" r="2.3" fill="#000" stroke="#fff" stroke-width="0.35"/>
<circle cx="659.7" cy="71.6" r="2.3" fill="#000" stroke="#fff" stroke-width="0.35"/>
<circle cx="633.8" cy="73.8" r="2.3" fill="#000" stroke="#fff" stroke-width="0.35"/>
<circle cx="640.4" cy="73.0" r="2.3" fill="#000" stroke="#fff" stroke-width="0.35"/>
<circle cx="647.4" cy="73.4" r="2.3" fill="#000" stroke="#fff" stroke-width="0.35"/>
<circle cx="653.5" cy="73.8" r="2.3" fill="#000" stroke="#fff" stroke-width="0.35"/>
<circle cx="621.6" cy="75.6" r="2.3" fill="#000" stroke="#fff" stroke-width="0.35"/>
<circle cx="664.9" cy="75.1" r="2.3" fill="#000" stroke="#fff" stroke-width="0.35"/>
<circle cx="657.9" cy="75.1" r="2.3" fill="#000" stroke="#fff" stroke-width="0.35"/>
<circle cx="630.3" cy="76.0" r="2.3" fill="#000" stroke="#fff" stroke-width="0.35"/>
<circle cx="637.3" cy="76.5" r="2.3" fill="#000" stroke="#fff" stroke-width="0.35"/>
<circle cx="645.6" cy="77.8" r="2.3" fill="#000" stroke="#fff" stroke-width="0.35"/>
<circle cx="650.9" cy="76.5" r="2.3" fill="#000" stroke="#fff" stroke-width="0.35"/>
<circle cx="626.8" cy="78.6" r="2.3" fill="#000" stroke="#fff" stroke-width="0.35"/>
<circle cx="661.4" cy="78.2" r="2.3" fill="#000" stroke="#fff" stroke-width="0.35"/>
<circle cx="623.3" cy="80.4" r="2.3" fill="#000" stroke="#fff" stroke-width="0.35"/>
<circle cx="630.3" cy="80.8" r="2.3" fill="#000" stroke="#fff" stroke-width="0.35"/>
<circle cx="637.3" cy="81.7" r="2.3" fill="#000" stroke="#fff" stroke-width="0.35"/>
<circle cx="643.9" cy="82.6" r="2.3" fill="#000" stroke="#fff" stroke-width="0.35"/>
<circle cx="650.9" cy="81.3" r="2.3" fill="#000" stroke="#fff" stroke-width="0.35"/>
<circle cx="657.9" cy="80.8" r="2.3" fill="#000" stroke="#fff" stroke-width="0.35"/>
<circle cx="664.9" cy="80.0" r="2.3" fill="#000" stroke="#fff" stroke-width="0.35"/>
<circle cx="640.4" cy="83.9" r="2.3" fill="#000" stroke="#fff" stroke-width="0.35"/>
<circle cx="647.4" cy="84.8" r="2.3" fill="#000" stroke="#fff" stroke-width="0.35"/>
<circle cx="623.3" cy="85.7" r="2.3" fill="#000" stroke="#fff" stroke-width="0.35"/>
<circle cx="630.3" cy="87.0" r="2.3" fill="#000" stroke="#fff" stroke-width="0.35"/>
<circle cx="637.3" cy="88.5" r="2.3" fill="#000" stroke="#fff" stroke-width="0.35"/>
<circle cx="643.9" cy="90.0" r="2.3" fill="#000" stroke="#fff" stroke-width="0.35"/>
<circle cx="650.9" cy="88.5" r="2.3" fill="#000" stroke="#fff" stroke-width="0.35"/>
<circle cx="657.9" cy="88.5" r="2.3" fill="#000" stroke="#fff" stroke-width="0.35"/>
<circle cx="664.9" cy="86.5" r="2.3" fill="#000" stroke="#fff" stroke-width="0.35"/>
<circle cx="630.3" cy="92.5" r="2.3" fill="#000" stroke="#fff" stroke-width="0.35"/>
<circle cx="650.9" cy="93.4" r="2.3" fill="#000" stroke="#fff" stroke-width="0.35"/>
<circle cx="657.9" cy="91.3" r="2.3" fill="#000" stroke="#fff" stroke-width="0.35"/>
<circle cx="637.3" cy="95.7" r="2.3" fill="#000" stroke="#fff" stroke-width="0.35"/>
<circle cx="643.9" cy="96.9" r="2.3" fill="#000" stroke="#fff" stroke-width="0.35"/>
<circle cx="633.0" cy="58.8" r="2.3" fill="#000" stroke="#fff" stroke-width="0.35"/>
<circle cx="654.0" cy="58.8" r="2.3" fill="#000" stroke="#fff" stroke-width="0.35"/>
<circle cx="626.0" cy="61.8" r="2.3" fill="#000" stroke="#fff" stroke-width="0.35"/>
<circle cx="661.5" cy="61.8" r="2.3" fill="#000" stroke="#fff" stroke-width="0.35"/>
<circle cx="630.5" cy="64.0" r="2.3" fill="#000" stroke="#fff" stroke-width="0.35"/>
<circle cx="657.0" cy="64.0" r="2.3" fill="#000" stroke="#fff" stroke-width="0.35"/>
<circle cx="643.9" cy="64.5" r="2.3" fill="#000" stroke="#fff" stroke-width="0.35"/>
<circle cx="636.8" cy="65.8" r="2.3" fill="#000" stroke="#fff" stroke-width="0.35"/>
<circle cx="650.5" cy="65.8" r="2.3" fill="#000" stroke="#fff" stroke-width="0.35"/>
<circle cx="633.0" cy="70.3" r="2.3" fill="#000" stroke="#fff" stroke-width="0.35"/>
<circle cx="640.0" cy="69.6" r="2.3" fill="#000" stroke="#fff" stroke-width="0.35"/>
<circle cx="648.0" cy="69.6" r="2.3" fill="#000" stroke="#fff" stroke-width="0.35"/>
<circle cx="654.5" cy="70.3" r="2.3" fill="#000" stroke="#fff" stroke-width="0.35"/>
<circle cx="626.0" cy="73.0" r="2.3" fill="#000" stroke="#fff" stroke-width="0.35"/>
<circle cx="661.5" cy="73.0" r="2.3" fill="#000" stroke="#fff" stroke-width="0.35"/>
<circle cx="644.0" cy="74.0" r="2.3" fill="#000" stroke="#fff" stroke-width="0.35"/>
<circle cx="629.8" cy="74.4" r="2.3" fill="#000" stroke="#fff" stroke-width="0.35"/>
<circle cx="657.5" cy="72.0" r="2.3" fill="#000" stroke="#fff" stroke-width="0.35"/>
<circle cx="633.5" cy="78.2" r="2.3" fill="#000" stroke="#fff" stroke-width="0.35"/>
<circle cx="640.8" cy="79.0" r="2.3" fill="#000" stroke="#fff" stroke-width="0.35"/>
<circle cx="647.5" cy="79.4" r="2.3" fill="#000" stroke="#fff" stroke-width="0.35"/>
<circle cx="654.6" cy="78.6" r="2.3" fill="#000" stroke="#fff" stroke-width="0.35"/>
<circle cx="658.0" cy="77.4" r="2.3" fill="#000" stroke="#fff" stroke-width="0.35"/>
<circle cx="622.5" cy="72.5" r="2.3" fill="#000" stroke="#fff" stroke-width="0.35"/>
<circle cx="665.5" cy="68.5" r="2.3" fill="#000" stroke="#fff" stroke-width="0.35"/>
<circle cx="626.6" cy="83.2" r="2.3" fill="#000" stroke="#fff" stroke-width="0.35"/>
<circle cx="633.8" cy="84.6" r="2.3" fill="#000" stroke="#fff" stroke-width="0.35"/>
<circle cx="654.4" cy="84.6" r="2.3" fill="#000" stroke="#fff" stroke-width="0.35"/>
<circle cx="661.4" cy="83.6" r="2.3" fill="#000" stroke="#fff" stroke-width="0.35"/>
<circle cx="640.5" cy="87.0" r="2.3" fill="#000" stroke="#fff" stroke-width="0.35"/>
<circle cx="647.5" cy="87.0" r="2.3" fill="#000" stroke="#fff" stroke-width="0.35"/>
<circle cx="644.0" cy="58.9" r="2.3" fill="#000" stroke="#fff" stroke-width="0.35"/>
<circle cx="623.3" cy="62.0" r="2.3" fill="#000" stroke="#fff" stroke-width="0.35"/>
<circle cx="644.0" cy="111.3" r="2.3" fill="#f20000" stroke="#b00000" stroke-width="0.3"/>
<text x="553.90" y="49.70" font-size="7.5" fill="#e3262b" textLength="20.60" lengthAdjust="spacingAndGlyphs">09/15</text>
<text x="553.40" y="168.00" font-size="10.3" textLength="27.40" lengthAdjust="spacingAndGlyphs">06/15</text>
<text x="629.00" y="45.50" font-size="10.3" textLength="38.20" lengthAdjust="spacingAndGlyphs">105/106</text>
<text x="636.80" y="125.50" font-size="7.5" fill="#e3262b" textLength="19.40" lengthAdjust="spacingAndGlyphs">1/106</text>
<rect x="529.20" y="34.50" width="153.50" height="152.40" fill="none" stroke="#3c3c3c" stroke-width="1.25"/>
<line x1="525.00" y1="186.90" x2="529.20" y2="186.90" stroke="#3c3c3c" stroke-width="1.1"/>
<text x="523.90" y="185.90" font-size="6.6" text-anchor="end">2</text>
<text x="518.40" y="190.20" font-size="11.0" text-anchor="end" textLength="11.00" lengthAdjust="spacingAndGlyphs">10</text>
<line x1="526.60" y1="171.61" x2="529.20" y2="171.61" stroke="#3c3c3c" stroke-width="1.0"/>
<line x1="526.60" y1="162.66" x2="529.20" y2="162.66" stroke="#3c3c3c" stroke-width="1.0"/>
<line x1="526.60" y1="156.32" x2="529.20" y2="156.32" stroke="#3c3c3c" stroke-width="1.0"/>
<line x1="526.60" y1="151.39" x2="529.20" y2="151.39" stroke="#3c3c3c" stroke-width="1.0"/>
<line x1="526.60" y1="147.37" x2="529.20" y2="147.37" stroke="#3c3c3c" stroke-width="1.0"/>
<line x1="526.60" y1="143.97" x2="529.20" y2="143.97" stroke="#3c3c3c" stroke-width="1.0"/>
<line x1="526.60" y1="141.02" x2="529.20" y2="141.02" stroke="#3c3c3c" stroke-width="1.0"/>
<line x1="526.60" y1="138.42" x2="529.20" y2="138.42" stroke="#3c3c3c" stroke-width="1.0"/>
<line x1="525.00" y1="136.10" x2="529.20" y2="136.10" stroke="#3c3c3c" stroke-width="1.1"/>
<text x="523.90" y="135.10" font-size="6.6" text-anchor="end">3</text>
<text x="518.40" y="139.40" font-size="11.0" text-anchor="end" textLength="11.00" lengthAdjust="spacingAndGlyphs">10</text>
<line x1="526.60" y1="120.81" x2="529.20" y2="120.81" stroke="#3c3c3c" stroke-width="1.0"/>
<line x1="526.60" y1="111.86" x2="529.20" y2="111.86" stroke="#3c3c3c" stroke-width="1.0"/>
<line x1="526.60" y1="105.52" x2="529.20" y2="105.52" stroke="#3c3c3c" stroke-width="1.0"/>
<line x1="526.60" y1="100.59" x2="529.20" y2="100.59" stroke="#3c3c3c" stroke-width="1.0"/>
<line x1="526.60" y1="96.57" x2="529.20" y2="96.57" stroke="#3c3c3c" stroke-width="1.0"/>
<line x1="526.60" y1="93.17" x2="529.20" y2="93.17" stroke="#3c3c3c" stroke-width="1.0"/>
<line x1="526.60" y1="90.22" x2="529.20" y2="90.22" stroke="#3c3c3c" stroke-width="1.0"/>
<line x1="526.60" y1="87.62" x2="529.20" y2="87.62" stroke="#3c3c3c" stroke-width="1.0"/>
<line x1="525.00" y1="85.30" x2="529.20" y2="85.30" stroke="#3c3c3c" stroke-width="1.1"/>
<text x="523.90" y="84.30" font-size="6.6" text-anchor="end">4</text>
<text x="518.40" y="88.60" font-size="11.0" text-anchor="end" textLength="11.00" lengthAdjust="spacingAndGlyphs">10</text>
<line x1="526.60" y1="70.01" x2="529.20" y2="70.01" stroke="#3c3c3c" stroke-width="1.0"/>
<line x1="526.60" y1="61.06" x2="529.20" y2="61.06" stroke="#3c3c3c" stroke-width="1.0"/>
<line x1="526.60" y1="54.72" x2="529.20" y2="54.72" stroke="#3c3c3c" stroke-width="1.0"/>
<line x1="526.60" y1="49.79" x2="529.20" y2="49.79" stroke="#3c3c3c" stroke-width="1.0"/>
<line x1="526.60" y1="45.77" x2="529.20" y2="45.77" stroke="#3c3c3c" stroke-width="1.0"/>
<line x1="526.60" y1="42.37" x2="529.20" y2="42.37" stroke="#3c3c3c" stroke-width="1.0"/>
<line x1="526.60" y1="39.42" x2="529.20" y2="39.42" stroke="#3c3c3c" stroke-width="1.0"/>
<line x1="526.60" y1="36.82" x2="529.20" y2="36.82" stroke="#3c3c3c" stroke-width="1.0"/>
<line x1="525.00" y1="34.50" x2="529.20" y2="34.50" stroke="#3c3c3c" stroke-width="1.1"/>
<text x="523.90" y="33.50" font-size="6.6" text-anchor="end">5</text>
<text x="518.40" y="37.80" font-size="11.0" text-anchor="end" textLength="11.00" lengthAdjust="spacingAndGlyphs">10</text>
<text x="567.70" y="201.30" font-size="10" text-anchor="middle" textLength="19.20" lengthAdjust="spacingAndGlyphs">CTL</text>
<text x="644.50" y="201.30" font-size="10" text-anchor="middle" textLength="29.20" lengthAdjust="spacingAndGlyphs">TOXO</text>
<rect x="102.00" y="229.90" width="174.00" height="31.60" fill="#d6d6d6"/>
<line x1="102.00" y1="229.90" x2="276.00" y2="229.90" stroke="#999" stroke-width="1.7"/>
<line x1="101.20" y1="261.50" x2="276.40" y2="261.50" stroke="#5e5e5e" stroke-width="1.4"/>
<text x="141.50" y="242.60" font-size="10.2" textLength="108.00" lengthAdjust="spacingAndGlyphs">Discriminant  Analysis</text>
<text x="195.30" y="253.30" text-anchor="middle" textLength="27.60" lengthAdjust="spacingAndGlyphs"><tspan font-size="8.4">CXCL9</tspan></text>
<text x="172.20" y="279.90" font-size="12.4" textLength="56.00" lengthAdjust="spacingAndGlyphs">Classified</text>
<line x1="154.70" y1="285.90" x2="241.00" y2="285.90" stroke="#9a9a9a" stroke-width="1.6"/>
<text x="107.90" y="287.60" font-size="11.3" textLength="37.00" lengthAdjust="spacingAndGlyphs">Groups</text>
<text x="172.40" y="297.50" font-size="10.4" textLength="17.20" lengthAdjust="spacingAndGlyphs">CTL</text>
<text x="214.80" y="297.50" font-size="10.4" textLength="26.00" lengthAdjust="spacingAndGlyphs">TOXO</text>
<text transform="translate(116.40,323.10) rotate(-90)" x="0" y="0" font-size="12.3" text-anchor="middle" textLength="42.60" lengthAdjust="spacingAndGlyphs">Original</text>
<line x1="122.60" y1="301.20" x2="122.60" y2="345.00" stroke="#3a3a3a" stroke-width="0.9"/>
<text x="131.20" y="315.50" font-size="10.0" textLength="17.60" lengthAdjust="spacingAndGlyphs">CTL</text>
<text x="128.30" y="339.90" font-size="10.0" textLength="24.50" lengthAdjust="spacingAndGlyphs">TOXO</text>
<text x="159.40" y="315.50" font-weight="bold" textLength="44.20" lengthAdjust="spacingAndGlyphs"><tspan font-size="10.3">81%</tspan><tspan font-size="7.8">(21/26)</tspan></text>
<text x="210.50" y="315.50" textLength="46.80" lengthAdjust="spacingAndGlyphs"><tspan font-size="10.3">16%</tspan><tspan font-size="7.8">(17/108)</tspan></text>
<text x="158.90" y="339.90" textLength="43.20" lengthAdjust="spacingAndGlyphs"><tspan font-size="10.3">19%</tspan><tspan font-size="7.8">(05/26)</tspan></text>
<text x="209.00" y="339.90" font-weight="bold" textLength="48.10" lengthAdjust="spacingAndGlyphs"><tspan font-size="10.3">84%</tspan><tspan font-size="7.8">(91/108)</tspan></text>
<line x1="102.30" y1="351.80" x2="276.40" y2="351.80" stroke="#7a7a7a" stroke-width="1.3"/>
<text x="179.40" y="362.00" textLength="90.20" lengthAdjust="spacingAndGlyphs"><tspan font-size="9.2">Accuracy: 84%</tspan><tspan font-size="7.2">(112/134)</tspan></text>
<rect x="429.10" y="230.00" width="173.90" height="31.30" fill="#d6d6d6"/>
<line x1="429.10" y1="230.00" x2="603.00" y2="230.00" stroke="#999" stroke-width="1.7"/>
<line x1="428.30" y1="261.30" x2="603.40" y2="261.30" stroke="#5e5e5e" stroke-width="1.4"/>
<text x="468.00" y="242.80" font-size="10.2" textLength="108.00" lengthAdjust="spacingAndGlyphs">Discriminant  Analysis</text>
<text x="522.10" y="253.60" text-anchor="middle" textLength="69.30" lengthAdjust="spacingAndGlyphs"><tspan font-size="8.4">CXCL9</tspan><tspan font-size="10.92" style="font-family:Liberation Mono,monospace" dy="-1.20">→</tspan><tspan font-size="8.4" dy="1.20">CXCL10</tspan></text>
<text x="499.20" y="279.90" font-size="12.4" textLength="56.00" lengthAdjust="spacingAndGlyphs">Classified</text>
<line x1="481.30" y1="285.70" x2="567.40" y2="285.70" stroke="#9a9a9a" stroke-width="1.6"/>
<text x="434.40" y="287.40" font-size="11.3" textLength="37.50" lengthAdjust="spacingAndGlyphs">Groups</text>
<text x="499.20" y="297.40" font-size="10.4" textLength="17.20" lengthAdjust="spacingAndGlyphs">CTL</text>
<text x="541.80" y="297.40" font-size="10.4" textLength="26.00" lengthAdjust="spacingAndGlyphs">TOXO</text>
<text transform="translate(443.40,323.10) rotate(-90)" x="0" y="0" font-size="12.3" text-anchor="middle" textLength="42.60" lengthAdjust="spacingAndGlyphs">Original</text>
<line x1="449.20" y1="301.20" x2="449.20" y2="345.00" stroke="#3a3a3a" stroke-width="0.9"/>
<text x="457.80" y="314.90" font-size="10.0" textLength="17.60" lengthAdjust="spacingAndGlyphs">CTL</text>
<text x="454.30" y="340.30" font-size="10.0" textLength="24.50" lengthAdjust="spacingAndGlyphs">TOXO</text>
<text x="486.40" y="314.90" font-weight="bold" textLength="43.90" lengthAdjust="spacingAndGlyphs"><tspan font-size="10.3">65%</tspan><tspan font-size="7.8">(17/26)</tspan></text>
<text x="539.50" y="314.90" textLength="42.20" lengthAdjust="spacingAndGlyphs"><tspan font-size="10.3">3%</tspan><tspan font-size="7.8">(03/108)</tspan></text>
<text x="485.50" y="340.30" textLength="43.60" lengthAdjust="spacingAndGlyphs"><tspan font-size="10.3">35%</tspan><tspan font-size="7.8">(09/26)</tspan></text>
<text x="533.10" y="340.30" font-weight="bold" textLength="52.90" lengthAdjust="spacingAndGlyphs"><tspan font-size="10.3">97%</tspan><tspan font-size="7.8">(105/108)</tspan></text>
<line x1="429.30" y1="352.00" x2="603.00" y2="352.00" stroke="#7a7a7a" stroke-width="1.3"/>
<text x="502.40" y="361.60" textLength="90.90" lengthAdjust="spacingAndGlyphs"><tspan font-size="9.2">Accuracy: 91%</tspan><tspan font-size="7.2">(122/134)</tspan></text>
<text transform="translate(125.00,400.80) scale(0.8,1)" x="0" y="0" font-size="13.6" textLength="32.00" lengthAdjust="spacing">CD4</text>
<text x="151.00" y="395.30" font-size="9.4" font-weight="bold">+</text>
<text transform="translate(157.60,400.80) scale(0.8,1)" x="0" y="0" font-size="13.6" textLength="40.00" lengthAdjust="spacing">CD25</text>
<text x="189.00" y="395.30" font-size="9.4" font-weight="bold">+</text>
<text transform="translate(94.50,475.50) rotate(-90) scale(0.85,1)" x="0" y="0" font-size="9.8" text-anchor="middle" textLength="109.41" lengthAdjust="spacing">Frequency (%)</text>
<text transform="translate(130.60,553.10) scale(0.74,1)" x="0" y="0" font-size="7.8" textLength="65.41" lengthAdjust="spacing">Cut-off = 4.8%</text>
<line x1="124.00" y1="490.30" x2="271.60" y2="490.30" stroke="#8a8a8a" stroke-width="0.8" stroke-dasharray="2.6,2"/>
<rect x="133.50" y="432.10" width="55.70" height="58.10" fill="none" stroke="#222" stroke-width="0.95" rx="6.5" stroke-dasharray="2.1,1.0"/>
<rect x="208.50" y="490.80" width="55.20" height="53.50" fill="none" stroke="#222" stroke-width="0.95" rx="6.5" stroke-dasharray="2.1,1.0"/>
<circle cx="160.4" cy="437.8" r="2.1" fill="#fff" stroke="#262626" stroke-width="1.0"/>
<circle cx="167.2" cy="437.8" r="2.1" fill="#fff" stroke="#262626" stroke-width="1.0"/>
<circle cx="153.6" cy="449.6" r="2.1" fill="#fff" stroke="#262626" stroke-width="1.0"/>
<circle cx="160.4" cy="449.6" r="2.1" fill="#fff" stroke="#262626" stroke-width="1.0"/>
<circle cx="146.9" cy="452.8" r="2.1" fill="#fff" stroke="#262626" stroke-width="1.0"/>
<circle cx="153.6" cy="455.9" r="2.1" fill="#fff" stroke="#262626" stroke-width="1.0"/>
<circle cx="160.4" cy="458.6" r="2.1" fill="#fff" stroke="#262626" stroke-width="1.0"/>
<circle cx="167.2" cy="455.9" r="2.1" fill="#fff" stroke="#262626" stroke-width="1.0"/>
<circle cx="174.0" cy="454.3" r="2.1" fill="#fff" stroke="#262626" stroke-width="1.0"/>
<circle cx="153.6" cy="469.4" r="2.1" fill="#fff" stroke="#262626" stroke-width="1.0"/>
<circle cx="160.4" cy="467.6" r="2.1" fill="#fff" stroke="#262626" stroke-width="1.0"/>
<circle cx="167.2" cy="472.3" r="2.1" fill="#fff" stroke="#262626" stroke-width="1.0"/>
<circle cx="160.4" cy="475.2" r="2.1" fill="#fff" stroke="#262626" stroke-width="1.0"/>
<circle cx="140.1" cy="482.8" r="2.1" fill="#fff" stroke="#262626" stroke-width="1.0"/>
<circle cx="146.9" cy="484.3" r="2.1" fill="#fff" stroke="#262626" stroke-width="1.0"/>
<circle cx="153.6" cy="484.3" r="2.1" fill="#fff" stroke="#262626" stroke-width="1.0"/>
<circle cx="160.4" cy="485.8" r="2.1" fill="#fff" stroke="#262626" stroke-width="1.0"/>
<circle cx="167.2" cy="484.3" r="2.1" fill="#fff" stroke="#262626" stroke-width="1.0"/>
<circle cx="174.0" cy="484.3" r="2.1" fill="#fff" stroke="#262626" stroke-width="1.0"/>
<circle cx="160.4" cy="497.7" r="2.2" fill="#f40000" stroke="#1a0000" stroke-width="0.7"/>
<circle cx="167.2" cy="493.4" r="2.2" fill="#f40000" stroke="#1a0000" stroke-width="0.7"/>
<circle cx="222.0" cy="489.9" r="2.3" fill="#000" stroke="#fff" stroke-width="0.35"/>
<circle cx="228.7" cy="491.3" r="2.3" fill="#000" stroke="#fff" stroke-width="0.35"/>
<circle cx="235.4" cy="491.7" r="2.3" fill="#000" stroke="#fff" stroke-width="0.35"/>
<circle cx="242.3" cy="491.3" r="2.3" fill="#000" stroke="#fff" stroke-width="0.35"/>
<circle cx="249.0" cy="491.3" r="2.3" fill="#000" stroke="#fff" stroke-width="0.35"/>
<circle cx="215.2" cy="496.0" r="2.3" fill="#000" stroke="#fff" stroke-width="0.35"/>
<circle cx="225.2" cy="494.6" r="2.3" fill="#000" stroke="#fff" stroke-width="0.35"/>
<circle cx="232.1" cy="494.6" r="2.3" fill="#000" stroke="#fff" stroke-width="0.35"/>
<circle cx="238.9" cy="494.6" r="2.3" fill="#000" stroke="#fff" stroke-width="0.35"/>
<circle cx="249.0" cy="497.8" r="2.3" fill="#000" stroke="#fff" stroke-width="0.35"/>
<circle cx="256.1" cy="496.0" r="2.3" fill="#000" stroke="#fff" stroke-width="0.35"/>
<circle cx="222.0" cy="500.7" r="2.3" fill="#000" stroke="#fff" stroke-width="0.35"/>
<circle cx="228.7" cy="500.7" r="2.3" fill="#000" stroke="#fff" stroke-width="0.35"/>
<circle cx="235.4" cy="500.7" r="2.3" fill="#000" stroke="#fff" stroke-width="0.35"/>
<circle cx="242.3" cy="500.7" r="2.3" fill="#000" stroke="#fff" stroke-width="0.35"/>
<circle cx="252.6" cy="501.8" r="2.3" fill="#000" stroke="#fff" stroke-width="0.35"/>
<circle cx="225.2" cy="502.2" r="2.3" fill="#000" stroke="#fff" stroke-width="0.35"/>
<circle cx="215.2" cy="504.9" r="2.3" fill="#000" stroke="#fff" stroke-width="0.35"/>
<circle cx="222.0" cy="504.9" r="2.3" fill="#000" stroke="#fff" stroke-width="0.35"/>
<circle cx="232.1" cy="503.7" r="2.3" fill="#000" stroke="#fff" stroke-width="0.35"/>
<circle cx="238.9" cy="503.7" r="2.3" fill="#000" stroke="#fff" stroke-width="0.35"/>
<circle cx="245.5" cy="503.7" r="2.3" fill="#000" stroke="#fff" stroke-width="0.35"/>
<circle cx="256.1" cy="504.9" r="2.3" fill="#000" stroke="#fff" stroke-width="0.35"/>
<circle cx="228.7" cy="506.6" r="2.3" fill="#000" stroke="#fff" stroke-width="0.35"/>
<circle cx="235.4" cy="508.0" r="2.3" fill="#000" stroke="#fff" stroke-width="0.35"/>
<circle cx="242.3" cy="508.0" r="2.3" fill="#000" stroke="#fff" stroke-width="0.35"/>
<circle cx="249.0" cy="506.6" r="2.3" fill="#000" stroke="#fff" stroke-width="0.35"/>
<circle cx="218.7" cy="509.5" r="2.3" fill="#000" stroke="#fff" stroke-width="0.35"/>
<circle cx="225.2" cy="510.9" r="2.3" fill="#000" stroke="#fff" stroke-width="0.35"/>
<circle cx="232.1" cy="510.9" r="2.3" fill="#000" stroke="#fff" stroke-width="0.35"/>
<circle cx="238.9" cy="510.9" r="2.3" fill="#000" stroke="#fff" stroke-width="0.35"/>
<circle cx="245.5" cy="509.5" r="2.3" fill="#000" stroke="#fff" stroke-width="0.35"/>
<circle cx="215.2" cy="512.7" r="2.3" fill="#000" stroke="#fff" stroke-width="0.35"/>
<circle cx="222.0" cy="514.2" r="2.3" fill="#000" stroke="#fff" stroke-width="0.35"/>
<circle cx="228.7" cy="515.6" r="2.3" fill="#000" stroke="#fff" stroke-width="0.35"/>
<circle cx="235.4" cy="515.6" r="2.3" fill="#000" stroke="#fff" stroke-width="0.35"/>
<circle cx="242.3" cy="514.2" r="2.3" fill="#000" stroke="#fff" stroke-width="0.35"/>
<circle cx="249.0" cy="512.7" r="2.3" fill="#000" stroke="#fff" stroke-width="0.35"/>
<circle cx="256.1" cy="512.7" r="2.3" fill="#000" stroke="#fff" stroke-width="0.35"/>
<circle cx="238.9" cy="518.5" r="2.3" fill="#000" stroke="#fff" stroke-width="0.35"/>
<circle cx="215.2" cy="520.3" r="2.3" fill="#000" stroke="#fff" stroke-width="0.35"/>
<circle cx="222.0" cy="520.3" r="2.3" fill="#000" stroke="#fff" stroke-width="0.35"/>
<circle cx="228.7" cy="521.5" r="2.3" fill="#000" stroke="#fff" stroke-width="0.35"/>
<circle cx="235.4" cy="523.4" r="2.3" fill="#000" stroke="#fff" stroke-width="0.35"/>
<circle cx="242.3" cy="523.4" r="2.3" fill="#000" stroke="#fff" stroke-width="0.35"/>
<circle cx="249.0" cy="521.5" r="2.3" fill="#000" stroke="#fff" stroke-width="0.35"/>
<circle cx="256.1" cy="520.3" r="2.3" fill="#000" stroke="#fff" stroke-width="0.35"/>
<circle cx="222.0" cy="526.1" r="2.3" fill="#000" stroke="#fff" stroke-width="0.35"/>
<circle cx="228.7" cy="527.6" r="2.3" fill="#000" stroke="#fff" stroke-width="0.35"/>
<circle cx="242.3" cy="527.6" r="2.3" fill="#000" stroke="#fff" stroke-width="0.35"/>
<circle cx="249.0" cy="526.1" r="2.3" fill="#000" stroke="#fff" stroke-width="0.35"/>
<circle cx="235.4" cy="530.8" r="2.3" fill="#000" stroke="#fff" stroke-width="0.35"/>
<circle cx="249.0" cy="534.0" r="2.3" fill="#000" stroke="#fff" stroke-width="0.35"/>
<circle cx="228.7" cy="536.9" r="2.3" fill="#000" stroke="#fff" stroke-width="0.35"/>
<circle cx="235.4" cy="539.8" r="2.3" fill="#000" stroke="#fff" stroke-width="0.35"/>
<circle cx="242.3" cy="539.8" r="2.3" fill="#000" stroke="#fff" stroke-width="0.35"/>
<circle cx="235.4" cy="440.8" r="2.3" fill="#f20000" stroke="#b00000" stroke-width="0.3"/>
<circle cx="228.7" cy="457.4" r="2.3" fill="#f20000" stroke="#b00000" stroke-width="0.3"/>
<circle cx="235.4" cy="461.8" r="2.3" fill="#f20000" stroke="#b00000" stroke-width="0.3"/>
<circle cx="228.7" cy="470.8" r="2.3" fill="#f20000" stroke="#b00000" stroke-width="0.3"/>
<circle cx="249.0" cy="470.8" r="2.3" fill="#f20000" stroke="#b00000" stroke-width="0.3"/>
<circle cx="235.4" cy="475.2" r="2.3" fill="#f20000" stroke="#b00000" stroke-width="0.3"/>
<circle cx="242.3" cy="474.9" r="2.3" fill="#f20000" stroke="#b00000" stroke-width="0.3"/>
<circle cx="242.3" cy="478.2" r="2.3" fill="#f20000" stroke="#b00000" stroke-width="0.3"/>
<circle cx="222.0" cy="478.2" r="2.3" fill="#f20000" stroke="#b00000" stroke-width="0.3"/>
<circle cx="228.7" cy="479.8" r="2.3" fill="#f20000" stroke="#b00000" stroke-width="0.3"/>
<circle cx="235.4" cy="484.2" r="2.3" fill="#f20000" stroke="#b00000" stroke-width="0.3"/>
<text transform="translate(153.50,427.40) scale(0.82,1)" x="0" y="0" font-size="9.6" textLength="30.24" lengthAdjust="spacing">19/21</text>
<text transform="translate(149.80,513.80) scale(0.82,1)" x="0" y="0" font-size="7.6" fill="#e3262b" textLength="24.39" lengthAdjust="spacing">02/21</text>
<text transform="translate(236.90,425.30) scale(0.82,1)" x="0" y="0" font-size="7.6" fill="#e3262b" textLength="22.93" lengthAdjust="spacing">11/67</text>
<text transform="translate(225.50,556.10) scale(0.82,1)" x="0" y="0" font-size="9.6" textLength="32.07" lengthAdjust="spacing">56/67</text>
<rect x="123.00" y="412.30" width="149.60" height="149.80" fill="none" stroke="#3c3c3c" stroke-width="1.25"/>
<line x1="118.70" y1="562.10" x2="123.00" y2="562.10" stroke="#3c3c3c" stroke-width="1.1"/>
<text transform="translate(111.40,565.60) scale(0.8,1)" x="0" y="0" font-size="9.6" textLength="5.75" lengthAdjust="spacing">0</text>
<line x1="118.70" y1="487.20" x2="123.00" y2="487.20" stroke="#3c3c3c" stroke-width="1.1"/>
<text transform="translate(111.40,490.70) scale(0.8,1)" x="0" y="0" font-size="9.6" textLength="5.75" lengthAdjust="spacing">5</text>
<line x1="118.70" y1="412.30" x2="123.00" y2="412.30" stroke="#3c3c3c" stroke-width="1.1"/>
<text transform="translate(105.40,415.80) scale(0.8,1)" x="0" y="0" font-size="9.6" textLength="13.25" lengthAdjust="spacing">10</text>
<text transform="translate(152.60,576.40) scale(0.74,1)" x="0" y="0" font-size="10.2" textLength="21.62" lengthAdjust="spacing">CTL</text>
<text transform="translate(224.00,576.40) scale(0.74,1)" x="0" y="0" font-size="10.2" textLength="31.89" lengthAdjust="spacing">TOXO</text>
<rect x="350.40" y="464.20" width="129.80" height="95.60" fill="#d6d6d6" stroke="#222" stroke-width="0.95" rx="7" stroke-dasharray="2.1,1.0"/>
<text transform="translate(344.00,400.80) scale(0.8,1)" x="0" y="0" font-size="13.6" textLength="32.00" lengthAdjust="spacing">CD4</text>
<text x="369.60" y="395.30" font-size="9.4" font-weight="bold">+</text>
<text transform="translate(376.60,400.80) scale(0.8,1)" x="0" y="0" font-size="13.6" textLength="40.00" lengthAdjust="spacing">CD25</text>
<text x="407.60" y="395.30" font-size="9.4" font-weight="bold">+</text>
<text transform="translate(310.80,474.80) rotate(-90) scale(0.85,1)" x="0" y="0" font-size="9.8" text-anchor="middle" textLength="109.41" lengthAdjust="spacing">Frequency (%)</text>
<text transform="translate(355.50,551.90) scale(0.74,1)" x="0" y="0" font-size="7.8" textLength="65.41" lengthAdjust="spacing">Cut-off = 6.5%</text>
<line x1="343.30" y1="464.30" x2="491.40" y2="464.30" stroke="#8a8a8a" stroke-width="0.8" stroke-dasharray="2.6,2"/>
<rect x="357.70" y="427.40" width="43.10" height="35.10" fill="none" stroke="#222" stroke-width="0.95" rx="6.07" stroke-dasharray="2.1,1.0"/>
<circle cx="379.6" cy="437.8" r="2.1" fill="#fff" stroke="#262626" stroke-width="1.0"/>
<circle cx="386.4" cy="437.8" r="2.1" fill="#fff" stroke="#262626" stroke-width="1.0"/>
<circle cx="372.8" cy="449.6" r="2.1" fill="#fff" stroke="#262626" stroke-width="1.0"/>
<circle cx="379.6" cy="449.6" r="2.1" fill="#fff" stroke="#262626" stroke-width="1.0"/>
<circle cx="366.1" cy="452.8" r="2.1" fill="#fff" stroke="#262626" stroke-width="1.0"/>
<circle cx="372.8" cy="455.9" r="2.1" fill="#fff" stroke="#262626" stroke-width="1.0"/>
<circle cx="379.6" cy="458.6" r="2.1" fill="#fff" stroke="#262626" stroke-width="1.0"/>
<circle cx="386.4" cy="455.9" r="2.1" fill="#fff" stroke="#262626" stroke-width="1.0"/>
<circle cx="393.2" cy="454.3" r="2.1" fill="#fff" stroke="#262626" stroke-width="1.0"/>
<circle cx="372.8" cy="469.4" r="2.1" fill="#fff" stroke="#262626" stroke-width="1.0"/>
<circle cx="379.6" cy="467.6" r="2.1" fill="#fff" stroke="#262626" stroke-width="1.0"/>
<circle cx="386.4" cy="472.3" r="2.1" fill="#fff" stroke="#262626" stroke-width="1.0"/>
<circle cx="379.6" cy="475.2" r="2.1" fill="#fff" stroke="#262626" stroke-width="1.0"/>
<circle cx="359.3" cy="482.8" r="2.1" fill="#fff" stroke="#262626" stroke-width="1.0"/>
<circle cx="366.1" cy="484.3" r="2.1" fill="#fff" stroke="#262626" stroke-width="1.0"/>
<circle cx="372.8" cy="484.3" r="2.1" fill="#fff" stroke="#262626" stroke-width="1.0"/>
<circle cx="379.6" cy="485.8" r="2.1" fill="#fff" stroke="#262626" stroke-width="1.0"/>
<circle cx="386.4" cy="484.3" r="2.1" fill="#fff" stroke="#262626" stroke-width="1.0"/>
<circle cx="393.2" cy="484.3" r="2.1" fill="#fff" stroke="#262626" stroke-width="1.0"/>
<circle cx="379.6" cy="497.7" r="2.1" fill="#fff" stroke="#262626" stroke-width="1.0"/>
<circle cx="386.4" cy="493.4" r="2.1" fill="#fff" stroke="#262626" stroke-width="1.0"/>
<circle cx="441.3" cy="489.9" r="2.3" fill="#000" stroke="#fff" stroke-width="0.35"/>
<circle cx="448.0" cy="491.3" r="2.3" fill="#000" stroke="#fff" stroke-width="0.35"/>
<circle cx="454.7" cy="491.7" r="2.3" fill="#000" stroke="#fff" stroke-width="0.35"/>
<circle cx="461.6" cy="491.3" r="2.3" fill="#000" stroke="#fff" stroke-width="0.35"/>
<circle cx="468.3" cy="491.3" r="2.3" fill="#000" stroke="#fff" stroke-width="0.35"/>
<circle cx="434.5" cy="496.0" r="2.3" fill="#000" stroke="#fff" stroke-width="0.35"/>
<circle cx="444.5" cy="494.6" r="2.3" fill="#000" stroke="#fff" stroke-width="0.35"/>
<circle cx="451.4" cy="494.6" r="2.3" fill="#000" stroke="#fff" stroke-width="0.35"/>
<circle cx="458.2" cy="494.6" r="2.3" fill="#000" stroke="#fff" stroke-width="0.35"/>
<circle cx="468.3" cy="497.8" r="2.3" fill="#000" stroke="#fff" stroke-width="0.35"/>
<circle cx="475.4" cy="496.0" r="2.3" fill="#000" stroke="#fff" stroke-width="0.35"/>
<circle cx="441.3" cy="500.7" r="2.3" fill="#000" stroke="#fff" stroke-width="0.35"/>
<circle cx="448.0" cy="500.7" r="2.3" fill="#000" stroke="#fff" stroke-width="0.35"/>
<circle cx="454.7" cy="500.7" r="2.3" fill="#000" stroke="#fff" stroke-width="0.35"/>
<circle cx="461.6" cy="500.7" r="2.3" fill="#000" stroke="#fff" stroke-width="0.35"/>
<circle cx="471.9" cy="501.8" r="2.3" fill="#000" stroke="#fff" stroke-width="0.35"/>
<circle cx="444.5" cy="502.2" r="2.3" fill="#000" stroke="#fff" stroke-width="0.35"/>
<circle cx="434.5" cy="504.9" r="2.3" fill="#000" stroke="#fff" stroke-width="0.35"/>
<circle cx="441.3" cy="504.9" r="2.3" fill="#000" stroke="#fff" stroke-width="0.35"/>
<circle cx="451.4" cy="503.7" r="2.3" fill="#000" stroke="#fff" stroke-width="0.35"/>
<circle cx="458.2" cy="503.7" r="2.3" fill="#000" stroke="#fff" stroke-width="0.35"/>
<circle cx="464.8" cy="503.7" r="2.3" fill="#000" stroke="#fff" stroke-width="0.35"/>
<circle cx="475.4" cy="504.9" r="2.3" fill="#000" stroke="#fff" stroke-width="0.35"/>
<circle cx="448.0" cy="506.6" r="2.3" fill="#000" stroke="#fff" stroke-width="0.35"/>
<circle cx="454.7" cy="508.0" r="2.3" fill="#000" stroke="#fff" stroke-width="0.35"/>
<circle cx="461.6" cy="508.0" r="2.3" fill="#000" stroke="#fff" stroke-width="0.35"/>
<circle cx="468.3" cy="506.6" r="2.3" fill="#000" stroke="#fff" stroke-width="0.35"/>
<circle cx="438.0" cy="509.5" r="2.3" fill="#000" stroke="#fff" stroke-width="0.35"/>
<circle cx="444.5" cy="510.9" r="2.3" fill="#000" stroke="#fff" stroke-width="0.35"/>
<circle cx="451.4" cy="510.9" r="2.3" fill="#000" stroke="#fff" stroke-width="0.35"/>
<circle cx="458.2" cy="510.9" r="2.3" fill="#000" stroke="#fff" stroke-width="0.35"/>
<circle cx="464.8" cy="509.5" r="2.3" fill="#000" stroke="#fff" stroke-width="0.35"/>
<circle cx="434.5" cy="512.7" r="2.3" fill="#000" stroke="#fff" stroke-width="0.35"/>
<circle cx="441.3" cy="514.2" r="2.3" fill="#000" stroke="#fff" stroke-width="0.35"/>
<circle cx="448.0" cy="515.6" r="2.3" fill="#000" stroke="#fff" stroke-width="0.35"/>
<circle cx="454.7" cy="515.6" r="2.3" fill="#000" stroke="#fff" stroke-width="0.35"/>
<circle cx="461.6" cy="514.2" r="2.3" fill="#000" stroke="#fff" stroke-width="0.35"/>
<circle cx="468.3" cy="512.7" r="2.3" fill="#000" stroke="#fff" stroke-width="0.35"/>
<circle cx="475.4" cy="512.7" r="2.3" fill="#000" stroke="#fff" stroke-width="0.35"/>
<circle cx="458.2" cy="518.5" r="2.3" fill="#000" stroke="#fff" stroke-width="0.35"/>
<circle cx="434.5" cy="520.3" r="2.3" fill="#000" stroke="#fff" stroke-width="0.35"/>
<circle cx="441.3" cy="520.3" r="2.3" fill="#000" stroke="#fff" stroke-width="0.35"/>
<circle cx="448.0" cy="521.5" r="2.3" fill="#000" stroke="#fff" stroke-width="0.35"/>
<circle cx="454.7" cy="523.4" r="2.3" fill="#000" stroke="#fff" stroke-width="0.35"/>
<circle cx="461.6" cy="523.4" r="2.3" fill="#000" stroke="#fff" stroke-width="0.35"/>
<circle cx="468.3" cy="521.5" r="2.3" fill="#000" stroke="#fff" stroke-width="0.35"/>
<circle cx="475.4" cy="520.3" r="2.3" fill="#000" stroke="#fff" stroke-width="0.35"/>
<circle cx="441.3" cy="526.1" r="2.3" fill="#000" stroke="#fff" stroke-width="0.35"/>
<circle cx="448.0" cy="527.6" r="2.3" fill="#000" stroke="#fff" stroke-width="0.35"/>
<circle cx="461.6" cy="527.6" r="2.3" fill="#000" stroke="#fff" stroke-width="0.35"/>
<circle cx="468.3" cy="526.1" r="2.3" fill="#000" stroke="#fff" stroke-width="0.35"/>
<circle cx="454.7" cy="530.8" r="2.3" fill="#000" stroke="#fff" stroke-width="0.35"/>
<circle cx="468.3" cy="534.0" r="2.3" fill="#000" stroke="#fff" stroke-width="0.35"/>
<circle cx="448.0" cy="536.9" r="2.3" fill="#000" stroke="#fff" stroke-width="0.35"/>
<circle cx="454.7" cy="539.8" r="2.3" fill="#000" stroke="#fff" stroke-width="0.35"/>
<circle cx="461.6" cy="539.8" r="2.3" fill="#000" stroke="#fff" stroke-width="0.35"/>
<circle cx="448.0" cy="470.8" r="2.3" fill="#000" stroke="#fff" stroke-width="0.35"/>
<circle cx="468.3" cy="470.8" r="2.3" fill="#000" stroke="#fff" stroke-width="0.35"/>
<circle cx="454.7" cy="475.2" r="2.3" fill="#000" stroke="#fff" stroke-width="0.35"/>
<circle cx="461.6" cy="474.9" r="2.3" fill="#000" stroke="#fff" stroke-width="0.35"/>
<circle cx="461.6" cy="478.2" r="2.3" fill="#000" stroke="#fff" stroke-width="0.35"/>
<circle cx="441.3" cy="478.2" r="2.3" fill="#000" stroke="#fff" stroke-width="0.35"/>
<circle cx="448.0" cy="479.8" r="2.3" fill="#000" stroke="#fff" stroke-width="0.35"/>
<circle cx="454.7" cy="484.2" r="2.3" fill="#000" stroke="#fff" stroke-width="0.35"/>
<circle cx="454.7" cy="440.8" r="2.3" fill="#f20000" stroke="#b00000" stroke-width="0.3"/>
<circle cx="448.0" cy="457.4" r="2.3" fill="#f20000" stroke="#b00000" stroke-width="0.3"/>
<circle cx="454.7" cy="461.8" r="2.3" fill="#f20000" stroke="#b00000" stroke-width="0.3"/>
<text transform="translate(365.60,424.30) scale(0.82,1)" x="0" y="0" font-size="9.6" textLength="30.98" lengthAdjust="spacing">09/21</text>
<text transform="translate(444.50,424.60) scale(0.82,1)" x="0" y="0" font-size="7.6" fill="#e3262b" textLength="23.90" lengthAdjust="spacing">03/67</text>
<rect x="342.30" y="412.20" width="150.10" height="149.90" fill="none" stroke="#3c3c3c" stroke-width="1.25"/>
<line x1="338.00" y1="562.10" x2="342.30" y2="562.10" stroke="#3c3c3c" stroke-width="1.1"/>
<text transform="translate(330.70,565.60) scale(0.8,1)" x="0" y="0" font-size="9.6" textLength="5.75" lengthAdjust="spacing">0</text>
<line x1="338.00" y1="487.15" x2="342.30" y2="487.15" stroke="#3c3c3c" stroke-width="1.1"/>
<text transform="translate(330.70,490.65) scale(0.8,1)" x="0" y="0" font-size="9.6" textLength="5.75" lengthAdjust="spacing">5</text>
<line x1="338.00" y1="412.20" x2="342.30" y2="412.20" stroke="#3c3c3c" stroke-width="1.1"/>
<text transform="translate(324.70,415.70) scale(0.8,1)" x="0" y="0" font-size="9.6" textLength="13.25" lengthAdjust="spacing">10</text>
<text transform="translate(372.00,576.40) scale(0.74,1)" x="0" y="0" font-size="10.2" textLength="21.62" lengthAdjust="spacing">CTL</text>
<text transform="translate(443.00,576.40) scale(0.74,1)" x="0" y="0" font-size="10.2" textLength="31.89" lengthAdjust="spacing">TOXO</text>
<path d="M416.90,463.80 L416.90,380.80 L616.30,380.80 L616.30,396.60" fill="none" stroke="#2a2a2a" stroke-width="0.9" stroke-dasharray="1.6,1.2"/>
<path d="M613.00,397.00 L619.60,397.00 L616.30,405.50 Z" fill="#111"/>
<text transform="translate(537.60,400.70) scale(0.8,1)" x="0" y="0" font-size="13.6" textLength="31.25" lengthAdjust="spacing">TCR</text>
<text x="563.80" y="400.70" font-size="12.6" style="font-family:Liberation Serif,serif" textLength="11.60" lengthAdjust="spacingAndGlyphs">γδ</text>
<text x="576.40" y="395.20" font-size="9.4" font-weight="bold">+</text>
<text transform="translate(539.50,426.80) scale(0.74,1)" x="0" y="0" font-size="7.8" textLength="64.86" lengthAdjust="spacing">Cut-off = 4.1%</text>
<line x1="534.60" y1="537.60" x2="682.50" y2="537.60" stroke="#8a8a8a" stroke-width="0.8" stroke-dasharray="2.6,2"/>
<rect x="551.10" y="537.70" width="37.90" height="22.40" fill="none" stroke="#222" stroke-width="0.95" rx="3.91" stroke-dasharray="2.1,1.0"/>
<rect x="622.60" y="423.30" width="47.20" height="114.70" fill="none" stroke="#222" stroke-width="0.95" rx="6.5" stroke-dasharray="2.1,1.0"/>
<circle cx="557.2" cy="539.3" r="2.1" fill="#fff" stroke="#262626" stroke-width="1.0"/>
<circle cx="564.2" cy="541.9" r="2.1" fill="#fff" stroke="#262626" stroke-width="1.0"/>
<circle cx="564.2" cy="546.0" r="2.1" fill="#fff" stroke="#262626" stroke-width="1.0"/>
<circle cx="571.0" cy="542.5" r="2.1" fill="#fff" stroke="#262626" stroke-width="1.0"/>
<circle cx="577.7" cy="540.5" r="2.1" fill="#fff" stroke="#262626" stroke-width="1.0"/>
<circle cx="584.6" cy="543.1" r="2.1" fill="#fff" stroke="#262626" stroke-width="1.0"/>
<circle cx="577.7" cy="547.5" r="2.1" fill="#fff" stroke="#262626" stroke-width="1.0"/>
<circle cx="571.0" cy="550.1" r="2.1" fill="#fff" stroke="#262626" stroke-width="1.0"/>
<circle cx="571.0" cy="464.3" r="2.2" fill="#f40000" stroke="#1a0000" stroke-width="0.7"/>
<circle cx="571.0" cy="525.0" r="2.2" fill="#f40000" stroke="#1a0000" stroke-width="0.7"/>
<circle cx="577.7" cy="522.0" r="2.2" fill="#f40000" stroke="#1a0000" stroke-width="0.7"/>
<circle cx="584.6" cy="537.6" r="2.2" fill="#f40000" stroke="#1a0000" stroke-width="0.7"/>
<circle cx="645.9" cy="426.7" r="2.3" fill="#000" stroke="#fff" stroke-width="0.35"/>
<circle cx="645.9" cy="448.8" r="2.3" fill="#000" stroke="#fff" stroke-width="0.35"/>
<circle cx="645.9" cy="457.8" r="2.3" fill="#000" stroke="#fff" stroke-width="0.35"/>
<circle cx="652.9" cy="456.2" r="2.3" fill="#000" stroke="#fff" stroke-width="0.35"/>
<circle cx="639.2" cy="466.8" r="2.3" fill="#000" stroke="#fff" stroke-width="0.35"/>
<circle cx="645.9" cy="469.3" r="2.3" fill="#000" stroke="#fff" stroke-width="0.35"/>
<circle cx="652.9" cy="465.0" r="2.3" fill="#000" stroke="#fff" stroke-width="0.35"/>
<circle cx="639.2" cy="483.7" r="2.3" fill="#000" stroke="#fff" stroke-width="0.35"/>
<circle cx="625.8" cy="488.1" r="2.3" fill="#000" stroke="#fff" stroke-width="0.35"/>
<circle cx="632.5" cy="489.1" r="2.3" fill="#000" stroke="#fff" stroke-width="0.35"/>
<circle cx="639.2" cy="490.9" r="2.3" fill="#000" stroke="#fff" stroke-width="0.35"/>
<circle cx="645.9" cy="487.2" r="2.3" fill="#000" stroke="#fff" stroke-width="0.35"/>
<circle cx="652.9" cy="485.3" r="2.3" fill="#000" stroke="#fff" stroke-width="0.35"/>
<circle cx="652.9" cy="489.7" r="2.3" fill="#000" stroke="#fff" stroke-width="0.35"/>
<circle cx="659.6" cy="488.4" r="2.3" fill="#000" stroke="#fff" stroke-width="0.35"/>
<circle cx="645.9" cy="494.6" r="2.3" fill="#000" stroke="#fff" stroke-width="0.35"/>
<circle cx="632.5" cy="498.9" r="2.3" fill="#000" stroke="#fff" stroke-width="0.35"/>
<circle cx="659.6" cy="498.9" r="2.3" fill="#000" stroke="#fff" stroke-width="0.35"/>
<circle cx="666.4" cy="498.2" r="2.3" fill="#000" stroke="#fff" stroke-width="0.35"/>
<circle cx="639.2" cy="501.7" r="2.3" fill="#000" stroke="#fff" stroke-width="0.35"/>
<circle cx="645.9" cy="503.3" r="2.3" fill="#000" stroke="#fff" stroke-width="0.35"/>
<circle cx="652.9" cy="501.7" r="2.3" fill="#000" stroke="#fff" stroke-width="0.35"/>
<circle cx="632.5" cy="506.4" r="2.3" fill="#000" stroke="#fff" stroke-width="0.35"/>
<circle cx="639.2" cy="508.3" r="2.3" fill="#000" stroke="#fff" stroke-width="0.35"/>
<circle cx="652.9" cy="506.8" r="2.3" fill="#000" stroke="#fff" stroke-width="0.35"/>
<circle cx="645.9" cy="511.3" r="2.3" fill="#000" stroke="#fff" stroke-width="0.35"/>
<circle cx="642.6" cy="512.9" r="2.3" fill="#000" stroke="#fff" stroke-width="0.35"/>
<circle cx="649.4" cy="512.9" r="2.3" fill="#000" stroke="#fff" stroke-width="0.35"/>
<circle cx="656.2" cy="512.9" r="2.3" fill="#000" stroke="#fff" stroke-width="0.35"/>
<circle cx="625.8" cy="514.1" r="2.3" fill="#000" stroke="#fff" stroke-width="0.35"/>
<circle cx="632.5" cy="516.0" r="2.3" fill="#000" stroke="#fff" stroke-width="0.35"/>
<circle cx="639.2" cy="516.6" r="2.3" fill="#000" stroke="#fff" stroke-width="0.35"/>
<circle cx="659.6" cy="516.2" r="2.3" fill="#000" stroke="#fff" stroke-width="0.35"/>
<circle cx="666.4" cy="514.7" r="2.3" fill="#000" stroke="#fff" stroke-width="0.35"/>
<circle cx="645.9" cy="519.1" r="2.3" fill="#000" stroke="#fff" stroke-width="0.35"/>
<circle cx="652.9" cy="518.2" r="2.3" fill="#000" stroke="#fff" stroke-width="0.35"/>
<circle cx="632.5" cy="520.7" r="2.3" fill="#000" stroke="#fff" stroke-width="0.35"/>
<circle cx="652.9" cy="522.8" r="2.3" fill="#000" stroke="#fff" stroke-width="0.35"/>
<circle cx="639.2" cy="525.7" r="2.3" fill="#000" stroke="#fff" stroke-width="0.35"/>
<circle cx="645.9" cy="526.9" r="2.3" fill="#000" stroke="#fff" stroke-width="0.35"/>
<circle cx="642.6" cy="528.1" r="2.3" fill="#000" stroke="#fff" stroke-width="0.35"/>
<circle cx="649.4" cy="528.1" r="2.3" fill="#000" stroke="#fff" stroke-width="0.35"/>
<circle cx="625.8" cy="530.9" r="2.3" fill="#000" stroke="#fff" stroke-width="0.35"/>
<circle cx="632.5" cy="532.1" r="2.3" fill="#000" stroke="#fff" stroke-width="0.35"/>
<circle cx="639.2" cy="531.9" r="2.3" fill="#000" stroke="#fff" stroke-width="0.35"/>
<circle cx="645.9" cy="533.7" r="2.3" fill="#000" stroke="#fff" stroke-width="0.35"/>
<circle cx="652.9" cy="533.3" r="2.3" fill="#000" stroke="#fff" stroke-width="0.35"/>
<circle cx="659.6" cy="531.9" r="2.3" fill="#000" stroke="#fff" stroke-width="0.35"/>
<circle cx="666.4" cy="530.9" r="2.3" fill="#000" stroke="#fff" stroke-width="0.35"/>
<circle cx="636.0" cy="535.8" r="2.3" fill="#000" stroke="#fff" stroke-width="0.35"/>
<circle cx="642.6" cy="536.5" r="2.3" fill="#000" stroke="#fff" stroke-width="0.35"/>
<circle cx="649.4" cy="536.5" r="2.3" fill="#000" stroke="#fff" stroke-width="0.35"/>
<circle cx="666.4" cy="536.5" r="2.3" fill="#000" stroke="#fff" stroke-width="0.35"/>
<circle cx="625.8" cy="537.7" r="2.3" fill="#000" stroke="#fff" stroke-width="0.35"/>
<circle cx="659.6" cy="538.1" r="2.3" fill="#000" stroke="#fff" stroke-width="0.35"/>
<circle cx="632.5" cy="539.8" r="2.3" fill="#f20000" stroke="#b00000" stroke-width="0.3"/>
<circle cx="639.2" cy="542.4" r="2.3" fill="#f20000" stroke="#b00000" stroke-width="0.3"/>
<circle cx="645.9" cy="542.4" r="2.3" fill="#f20000" stroke="#b00000" stroke-width="0.3"/>
<circle cx="652.9" cy="540.8" r="2.3" fill="#f20000" stroke="#b00000" stroke-width="0.3"/>
<circle cx="632.5" cy="547.9" r="2.3" fill="#f20000" stroke="#b00000" stroke-width="0.3"/>
<circle cx="639.2" cy="549.7" r="2.3" fill="#f20000" stroke="#b00000" stroke-width="0.3"/>
<circle cx="645.9" cy="552.6" r="2.3" fill="#f20000" stroke="#b00000" stroke-width="0.3"/>
<circle cx="652.9" cy="552.0" r="2.3" fill="#f20000" stroke="#b00000" stroke-width="0.3"/>
<circle cx="659.6" cy="549.7" r="2.3" fill="#f20000" stroke="#b00000" stroke-width="0.3"/>
<text transform="translate(558.80,447.30) scale(0.82,1)" x="0" y="0" font-size="7.6" fill="#e3262b" textLength="23.90" lengthAdjust="spacing">04/12</text>
<text transform="translate(591.80,548.30) scale(0.82,1)" x="0" y="0" font-size="9.6" textLength="28.54" lengthAdjust="spacing">08/12</text>
<text transform="translate(593.10,441.50) scale(0.82,1)" x="0" y="0" font-size="9.6" textLength="31.22" lengthAdjust="spacing">55/64</text>
<text transform="translate(656.60,557.50) scale(0.82,1)" x="0" y="0" font-size="7.6" fill="#e3262b" textLength="23.17" lengthAdjust="spacing">09/64</text>
<rect x="533.60" y="412.20" width="149.90" height="149.90" fill="none" stroke="#3c3c3c" stroke-width="1.25"/>
<line x1="529.30" y1="562.10" x2="533.60" y2="562.10" stroke="#3c3c3c" stroke-width="1.1"/>
<text transform="translate(522.00,565.60) scale(0.8,1)" x="0" y="0" font-size="9.6" textLength="5.75" lengthAdjust="spacing">0</text>
<line x1="529.30" y1="532.12" x2="533.60" y2="532.12" stroke="#3c3c3c" stroke-width="1.1"/>
<text transform="translate(522.00,535.62) scale(0.8,1)" x="0" y="0" font-size="9.6" textLength="5.75" lengthAdjust="spacing">5</text>
<line x1="529.30" y1="502.14" x2="533.60" y2="502.14" stroke="#3c3c3c" stroke-width="1.1"/>
<text transform="translate(516.00,505.64) scale(0.8,1)" x="0" y="0" font-size="9.6" textLength="13.25" lengthAdjust="spacing">10</text>
<line x1="529.30" y1="472.16" x2="533.60" y2="472.16" stroke="#3c3c3c" stroke-width="1.1"/>
<text transform="translate(516.00,475.66) scale(0.8,1)" x="0" y="0" font-size="9.6" textLength="13.25" lengthAdjust="spacing">15</text>
<line x1="529.30" y1="442.18" x2="533.60" y2="442.18" stroke="#3c3c3c" stroke-width="1.1"/>
<text transform="translate(516.00,445.68) scale(0.8,1)" x="0" y="0" font-size="9.6" textLength="13.25" lengthAdjust="spacing">20</text>
<line x1="529.30" y1="412.20" x2="533.60" y2="412.20" stroke="#3c3c3c" stroke-width="1.1"/>
<text transform="translate(516.00,415.70) scale(0.8,1)" x="0" y="0" font-size="9.6" textLength="13.25" lengthAdjust="spacing">25</text>
<text transform="translate(563.40,576.40) scale(0.74,1)" x="0" y="0" font-size="10.2" textLength="21.62" lengthAdjust="spacing">CTL</text>
<text transform="translate(634.50,576.40) scale(0.74,1)" x="0" y="0" font-size="10.2" textLength="31.89" lengthAdjust="spacing">TOXO</text>
<rect x="108.60" y="603.50" width="173.80" height="31.20" fill="#d6d6d6"/>
<line x1="108.60" y1="603.50" x2="282.40" y2="603.50" stroke="#555" stroke-width="1.1"/>
<line x1="107.80" y1="634.70" x2="282.80" y2="634.70" stroke="#5e5e5e" stroke-width="1.4"/>
<text transform="translate(147.40,616.90) scale(0.76,1)" x="0" y="0" font-size="10.4" textLength="142.11" lengthAdjust="spacing">Discriminant  Analysis</text>
<text transform="translate(200.60,629.20) scale(0.78,1)" x="0" y="0" text-anchor="middle" textLength="59.62" lengthAdjust="spacing"><tspan font-size="8.4">CD4</tspan><tspan font-size="6.05" dy="-3.53">+</tspan><tspan font-size="8.4" dy="3.53">CD25</tspan><tspan font-size="6.05" dy="-3.53">+</tspan></text>
<text transform="translate(178.80,653.40) scale(0.8,1)" x="0" y="0" font-size="12.8" textLength="69.50" lengthAdjust="spacing">Classified</text>
<line x1="161.40" y1="659.30" x2="247.40" y2="659.30" stroke="#9a9a9a" stroke-width="1.6"/>
<text transform="translate(114.70,661.00) scale(0.8,1)" x="0" y="0" font-size="11.6" textLength="45.25" lengthAdjust="spacing">Groups</text>
<text transform="translate(178.60,671.00) scale(0.76,1)" x="0" y="0" font-size="10.4" textLength="21.84" lengthAdjust="spacing">CTL</text>
<text transform="translate(220.90,671.00) scale(0.76,1)" x="0" y="0" font-size="10.4" textLength="33.95" lengthAdjust="spacing">TOXO</text>
<text transform="translate(123.80,691.10) rotate(-90) scale(0.8,1)" x="0" y="0" font-size="12.6" text-anchor="middle" textLength="65.75" lengthAdjust="spacing">Original</text>
<line x1="129.10" y1="675.00" x2="129.10" y2="718.80" stroke="#8c8c8c" stroke-width="1.2"/>
<text transform="translate(137.70,688.50) scale(0.76,1)" x="0" y="0" font-size="10.4" textLength="21.84" lengthAdjust="spacing">CTL</text>
<text transform="translate(134.00,713.50) scale(0.76,1)" x="0" y="0" font-size="10.4" textLength="32.63" lengthAdjust="spacing">TOXO</text>
<text transform="translate(165.60,688.50) scale(0.76,1)" x="0" y="0" font-weight="bold" textLength="58.68" lengthAdjust="spacing"><tspan font-size="10.3">90%</tspan><tspan font-size="7.8" dx="2">(19/21)</tspan></text>
<text transform="translate(218.30,688.50) scale(0.76,1)" x="0" y="0" textLength="57.37" lengthAdjust="spacing"><tspan font-size="10.3">16%</tspan><tspan font-size="7.8" dx="2">(11/67)</tspan></text>
<text transform="translate(165.00,714.00) scale(0.76,1)" x="0" y="0" textLength="57.63" lengthAdjust="spacing"><tspan font-size="10.3">10%</tspan><tspan font-size="7.8" dx="2">(02/21)</tspan></text>
<text transform="translate(216.80,714.00) scale(0.76,1)" x="0" y="0" font-weight="bold" textLength="59.47" lengthAdjust="spacing"><tspan font-size="10.3">84%</tspan><tspan font-size="7.8" dx="2">(56/67)</tspan></text>
<line x1="108.30" y1="725.00" x2="282.40" y2="725.00" stroke="#7a7a7a" stroke-width="1.3"/>
<text transform="translate(190.80,733.90) scale(0.76,1)" x="0" y="0" textLength="107.89" lengthAdjust="spacing"><tspan font-size="9.6">Accuracy: 85%</tspan><tspan font-size="7.2" dx="1.5">(75/88)</tspan></text>
<rect x="434.30" y="603.50" width="174.00" height="31.20" fill="#d6d6d6"/>
<line x1="434.30" y1="603.50" x2="608.30" y2="603.50" stroke="#555" stroke-width="1.1"/>
<line x1="433.50" y1="634.70" x2="608.70" y2="634.70" stroke="#5e5e5e" stroke-width="1.4"/>
<text transform="translate(473.40,616.90) scale(0.76,1)" x="0" y="0" font-size="10.4" textLength="142.11" lengthAdjust="spacing">Discriminant  Analysis</text>
<text transform="translate(529.00,629.20) scale(0.78,1)" x="0" y="0" text-anchor="middle" textLength="114.10" lengthAdjust="spacing"><tspan font-size="8.4">CD4</tspan><tspan font-size="6.05" dy="-3.53">+</tspan><tspan font-size="8.4" dy="3.53">CD25</tspan><tspan font-size="6.05" dy="-3.53">+</tspan><tspan font-size="10.92" style="font-family:Liberation Mono,monospace" dy="2.33">→</tspan><tspan font-size="8.4" dy="1.20">TCRγδ</tspan><tspan font-size="6.05" dy="-3.53">+</tspan></text>
<text transform="translate(504.80,653.40) scale(0.8,1)" x="0" y="0" font-size="12.8" textLength="69.50" lengthAdjust="spacing">Classified</text>
<line x1="487.40" y1="659.30" x2="573.40" y2="659.30" stroke="#9a9a9a" stroke-width="1.6"/>
<text transform="translate(440.70,661.00) scale(0.8,1)" x="0" y="0" font-size="11.6" textLength="45.25" lengthAdjust="spacing">Groups</text>
<text transform="translate(504.60,671.00) scale(0.76,1)" x="0" y="0" font-size="10.4" textLength="21.84" lengthAdjust="spacing">CTL</text>
<text transform="translate(546.90,671.00) scale(0.76,1)" x="0" y="0" font-size="10.4" textLength="33.95" lengthAdjust="spacing">TOXO</text>
<text transform="translate(449.80,691.10) rotate(-90) scale(0.8,1)" x="0" y="0" font-size="12.6" text-anchor="middle" textLength="65.75" lengthAdjust="spacing">Original</text>
<line x1="455.10" y1="675.00" x2="455.10" y2="718.80" stroke="#8c8c8c" stroke-width="1.2"/>
<text transform="translate(463.70,688.50) scale(0.76,1)" x="0" y="0" font-size="10.4" textLength="21.84" lengthAdjust="spacing">CTL</text>
<text transform="translate(460.00,713.50) scale(0.76,1)" x="0" y="0" font-size="10.4" textLength="32.63" lengthAdjust="spacing">TOXO</text>
<text transform="translate(491.60,688.50) scale(0.76,1)" x="0" y="0" font-weight="bold" textLength="58.68" lengthAdjust="spacing"><tspan font-size="10.3">81%</tspan><tspan font-size="7.8" dx="2">(17/21)</tspan></text>
<text transform="translate(544.30,688.50) scale(0.76,1)" x="0" y="0" textLength="57.37" lengthAdjust="spacing"><tspan font-size="10.3">18%</tspan><tspan font-size="7.8" dx="2">(12/67)</tspan></text>
<text transform="translate(491.00,714.00) scale(0.76,1)" x="0" y="0" textLength="57.63" lengthAdjust="spacing"><tspan font-size="10.3">19%</tspan><tspan font-size="7.8" dx="2">(04/21)</tspan></text>
<text transform="translate(542.80,714.00) scale(0.76,1)" x="0" y="0" font-weight="bold" textLength="59.47" lengthAdjust="spacing"><tspan font-size="10.3">82%</tspan><tspan font-size="7.8" dx="2">(55/67)</tspan></text>
<line x1="434.20" y1="725.00" x2="608.30" y2="725.00" stroke="#7a7a7a" stroke-width="1.3"/>
<text transform="translate(517.00,733.90) scale(0.76,1)" x="0" y="0" textLength="108.42" lengthAdjust="spacing"><tspan font-size="9.6">Accuracy: 82%</tspan><tspan font-size="7.2" dx="1.5">(72/88)</tspan></text>
<text x="127.20" y="780.00" font-size="12.6" textLength="22.80" lengthAdjust="spacingAndGlyphs">IFN-</text>
<text x="149.30" y="780.00" font-size="12.6" style="font-family:Liberation Serif,serif" textLength="7.20" lengthAdjust="spacingAndGlyphs">γ</text>
<text x="156.90" y="774.70" font-size="9.2" font-weight="bold">+</text>
<text x="162.50" y="780.00" font-size="12.6" textLength="26.20" lengthAdjust="spacingAndGlyphs">CD4</text>
<text x="189.00" y="774.70" font-size="9.2" font-weight="bold">+</text>
<text transform="translate(89.90,868.30) rotate(-90)" x="0" y="0" font-size="10.9" text-anchor="middle" textLength="72.00" lengthAdjust="spacingAndGlyphs">Frequency (%)</text>
<text x="128.00" y="810.70" font-size="8.0" textLength="49.80" lengthAdjust="spacingAndGlyphs">Cut-off = 1.3%</text>
<line x1="121.40" y1="890.50" x2="272.00" y2="890.50" stroke="#8a8a8a" stroke-width="0.8" stroke-dasharray="2.6,2"/>
<rect x="133.40" y="891.80" width="51.10" height="31.60" fill="none" stroke="#222" stroke-width="0.95" rx="5.47" stroke-dasharray="2.1,1.0"/>
<rect x="209.60" y="817.60" width="51.40" height="71.90" fill="none" stroke="#222" stroke-width="0.95" rx="6.5" stroke-dasharray="2.1,1.0"/>
<circle cx="137.5" cy="896.2" r="2.1" fill="#fff" stroke="#262626" stroke-width="1.0"/>
<circle cx="144.5" cy="896.2" r="2.1" fill="#fff" stroke="#262626" stroke-width="1.0"/>
<circle cx="151.3" cy="898.3" r="2.1" fill="#fff" stroke="#262626" stroke-width="1.0"/>
<circle cx="158.3" cy="898.3" r="2.1" fill="#fff" stroke="#262626" stroke-width="1.0"/>
<circle cx="165.1" cy="898.3" r="2.1" fill="#fff" stroke="#262626" stroke-width="1.0"/>
<circle cx="172.0" cy="896.2" r="2.1" fill="#fff" stroke="#262626" stroke-width="1.0"/>
<circle cx="179.0" cy="892.1" r="2.1" fill="#fff" stroke="#262626" stroke-width="1.0"/>
<circle cx="158.3" cy="911.4" r="2.1" fill="#fff" stroke="#262626" stroke-width="1.0"/>
<circle cx="158.3" cy="875.8" r="2.2" fill="#f40000" stroke="#1a0000" stroke-width="0.7"/>
<circle cx="158.3" cy="884.5" r="2.2" fill="#f40000" stroke="#1a0000" stroke-width="0.7"/>
<circle cx="234.6" cy="825.7" r="2.3" fill="#000" stroke="#fff" stroke-width="0.35"/>
<circle cx="231.1" cy="834.8" r="2.3" fill="#000" stroke="#fff" stroke-width="0.35"/>
<circle cx="238.1" cy="836.2" r="2.3" fill="#000" stroke="#fff" stroke-width="0.35"/>
<circle cx="231.1" cy="847.5" r="2.3" fill="#000" stroke="#fff" stroke-width="0.35"/>
<circle cx="238.1" cy="847.5" r="2.3" fill="#000" stroke="#fff" stroke-width="0.35"/>
<circle cx="231.1" cy="859.0" r="2.3" fill="#000" stroke="#fff" stroke-width="0.35"/>
<circle cx="238.1" cy="860.1" r="2.3" fill="#000" stroke="#fff" stroke-width="0.35"/>
<circle cx="214.0" cy="869.6" r="2.3" fill="#000" stroke="#fff" stroke-width="0.35"/>
<circle cx="224.3" cy="867.9" r="2.3" fill="#000" stroke="#fff" stroke-width="0.35"/>
<circle cx="231.1" cy="867.9" r="2.3" fill="#000" stroke="#fff" stroke-width="0.35"/>
<circle cx="238.1" cy="869.0" r="2.3" fill="#000" stroke="#fff" stroke-width="0.35"/>
<circle cx="245.0" cy="867.9" r="2.3" fill="#000" stroke="#fff" stroke-width="0.35"/>
<circle cx="255.2" cy="869.6" r="2.3" fill="#000" stroke="#fff" stroke-width="0.35"/>
<circle cx="220.8" cy="871.1" r="2.3" fill="#000" stroke="#fff" stroke-width="0.35"/>
<circle cx="248.5" cy="871.1" r="2.3" fill="#000" stroke="#fff" stroke-width="0.35"/>
<circle cx="217.3" cy="875.0" r="2.3" fill="#000" stroke="#fff" stroke-width="0.35"/>
<circle cx="227.7" cy="872.6" r="2.3" fill="#000" stroke="#fff" stroke-width="0.35"/>
<circle cx="234.6" cy="873.4" r="2.3" fill="#000" stroke="#fff" stroke-width="0.35"/>
<circle cx="241.5" cy="873.4" r="2.3" fill="#000" stroke="#fff" stroke-width="0.35"/>
<circle cx="252.0" cy="876.7" r="2.3" fill="#000" stroke="#fff" stroke-width="0.35"/>
<circle cx="231.1" cy="875.0" r="2.3" fill="#000" stroke="#fff" stroke-width="0.35"/>
<circle cx="238.1" cy="875.0" r="2.3" fill="#000" stroke="#fff" stroke-width="0.35"/>
<circle cx="224.3" cy="877.8" r="2.3" fill="#000" stroke="#fff" stroke-width="0.35"/>
<circle cx="231.1" cy="877.8" r="2.3" fill="#000" stroke="#fff" stroke-width="0.35"/>
<circle cx="245.0" cy="877.8" r="2.3" fill="#000" stroke="#fff" stroke-width="0.35"/>
<circle cx="238.1" cy="880.8" r="2.3" fill="#000" stroke="#fff" stroke-width="0.35"/>
<circle cx="214.0" cy="884.3" r="2.3" fill="#000" stroke="#fff" stroke-width="0.35"/>
<circle cx="220.8" cy="885.7" r="2.3" fill="#000" stroke="#fff" stroke-width="0.35"/>
<circle cx="231.1" cy="883.1" r="2.3" fill="#000" stroke="#fff" stroke-width="0.35"/>
<circle cx="238.1" cy="884.3" r="2.3" fill="#000" stroke="#fff" stroke-width="0.35"/>
<circle cx="248.5" cy="885.7" r="2.3" fill="#000" stroke="#fff" stroke-width="0.35"/>
<circle cx="255.2" cy="885.7" r="2.3" fill="#000" stroke="#fff" stroke-width="0.35"/>
<circle cx="227.7" cy="887.1" r="2.3" fill="#000" stroke="#fff" stroke-width="0.35"/>
<circle cx="234.6" cy="888.6" r="2.3" fill="#000" stroke="#fff" stroke-width="0.35"/>
<circle cx="241.5" cy="888.6" r="2.3" fill="#000" stroke="#fff" stroke-width="0.35"/>
<circle cx="214.0" cy="892.1" r="2.3" fill="#f20000" stroke="#b00000" stroke-width="0.3"/>
<circle cx="220.8" cy="896.0" r="2.3" fill="#f20000" stroke="#b00000" stroke-width="0.3"/>
<circle cx="227.7" cy="896.0" r="2.3" fill="#f20000" stroke="#b00000" stroke-width="0.3"/>
<circle cx="241.5" cy="896.0" r="2.3" fill="#f20000" stroke="#b00000" stroke-width="0.3"/>
<circle cx="248.5" cy="894.1" r="2.3" fill="#f20000" stroke="#b00000" stroke-width="0.3"/>
<circle cx="255.2" cy="892.1" r="2.3" fill="#f20000" stroke="#b00000" stroke-width="0.3"/>
<circle cx="234.6" cy="898.5" r="2.3" fill="#f20000" stroke="#b00000" stroke-width="0.3"/>
<circle cx="234.6" cy="907.3" r="2.3" fill="#f20000" stroke="#b00000" stroke-width="0.3"/>
<text x="148.40" y="863.50" font-size="7.5" fill="#e3262b" textLength="20.10" lengthAdjust="spacingAndGlyphs">02/10</text>
<text x="144.90" y="938.00" font-size="10.3" textLength="26.70" lengthAdjust="spacingAndGlyphs">08/10</text>
<text x="221.40" y="810.50" font-size="10.3" textLength="26.70" lengthAdjust="spacingAndGlyphs">35/43</text>
<text x="224.30" y="925.40" font-size="7.5" fill="#e3262b" textLength="20.30" lengthAdjust="spacingAndGlyphs">08/43</text>
<rect x="120.40" y="794.60" width="152.60" height="152.30" fill="none" stroke="#3c3c3c" stroke-width="1.25"/>
<line x1="116.20" y1="946.90" x2="120.40" y2="946.90" stroke="#3c3c3c" stroke-width="1.1"/>
<text x="115.10" y="945.90" font-size="6.6" text-anchor="end">-1</text>
<text x="107.40" y="950.20" font-size="11.0" text-anchor="end" textLength="11.00" lengthAdjust="spacingAndGlyphs">10</text>
<line x1="117.80" y1="931.62" x2="120.40" y2="931.62" stroke="#3c3c3c" stroke-width="1.0"/>
<line x1="117.80" y1="922.68" x2="120.40" y2="922.68" stroke="#3c3c3c" stroke-width="1.0"/>
<line x1="117.80" y1="916.34" x2="120.40" y2="916.34" stroke="#3c3c3c" stroke-width="1.0"/>
<line x1="117.80" y1="911.42" x2="120.40" y2="911.42" stroke="#3c3c3c" stroke-width="1.0"/>
<line x1="117.80" y1="907.40" x2="120.40" y2="907.40" stroke="#3c3c3c" stroke-width="1.0"/>
<line x1="117.80" y1="904.00" x2="120.40" y2="904.00" stroke="#3c3c3c" stroke-width="1.0"/>
<line x1="117.80" y1="901.05" x2="120.40" y2="901.05" stroke="#3c3c3c" stroke-width="1.0"/>
<line x1="117.80" y1="898.46" x2="120.40" y2="898.46" stroke="#3c3c3c" stroke-width="1.0"/>
<line x1="116.20" y1="896.13" x2="120.40" y2="896.13" stroke="#3c3c3c" stroke-width="1.1"/>
<text x="115.10" y="895.13" font-size="6.6" text-anchor="end">0</text>
<text x="109.60" y="899.43" font-size="11.0" text-anchor="end" textLength="11.00" lengthAdjust="spacingAndGlyphs">10</text>
<line x1="117.80" y1="880.85" x2="120.40" y2="880.85" stroke="#3c3c3c" stroke-width="1.0"/>
<line x1="117.80" y1="871.91" x2="120.40" y2="871.91" stroke="#3c3c3c" stroke-width="1.0"/>
<line x1="117.80" y1="865.57" x2="120.40" y2="865.57" stroke="#3c3c3c" stroke-width="1.0"/>
<line x1="117.80" y1="860.65" x2="120.40" y2="860.65" stroke="#3c3c3c" stroke-width="1.0"/>
<line x1="117.80" y1="856.63" x2="120.40" y2="856.63" stroke="#3c3c3c" stroke-width="1.0"/>
<line x1="117.80" y1="853.23" x2="120.40" y2="853.23" stroke="#3c3c3c" stroke-width="1.0"/>
<line x1="117.80" y1="850.29" x2="120.40" y2="850.29" stroke="#3c3c3c" stroke-width="1.0"/>
<line x1="117.80" y1="847.69" x2="120.40" y2="847.69" stroke="#3c3c3c" stroke-width="1.0"/>
<line x1="116.20" y1="845.37" x2="120.40" y2="845.37" stroke="#3c3c3c" stroke-width="1.1"/>
<text x="115.10" y="844.37" font-size="6.6" text-anchor="end">1</text>
<text x="109.60" y="848.67" font-size="11.0" text-anchor="end" textLength="11.00" lengthAdjust="spacingAndGlyphs">10</text>
<line x1="117.80" y1="830.08" x2="120.40" y2="830.08" stroke="#3c3c3c" stroke-width="1.0"/>
<line x1="117.80" y1="821.14" x2="120.40" y2="821.14" stroke="#3c3c3c" stroke-width="1.0"/>
<line x1="117.80" y1="814.80" x2="120.40" y2="814.80" stroke="#3c3c3c" stroke-width="1.0"/>
<line x1="117.80" y1="809.88" x2="120.40" y2="809.88" stroke="#3c3c3c" stroke-width="1.0"/>
<line x1="117.80" y1="805.86" x2="120.40" y2="805.86" stroke="#3c3c3c" stroke-width="1.0"/>
<line x1="117.80" y1="802.46" x2="120.40" y2="802.46" stroke="#3c3c3c" stroke-width="1.0"/>
<line x1="117.80" y1="799.52" x2="120.40" y2="799.52" stroke="#3c3c3c" stroke-width="1.0"/>
<line x1="117.80" y1="796.92" x2="120.40" y2="796.92" stroke="#3c3c3c" stroke-width="1.0"/>
<line x1="116.20" y1="794.60" x2="120.40" y2="794.60" stroke="#3c3c3c" stroke-width="1.1"/>
<text x="115.10" y="793.60" font-size="6.6" text-anchor="end">2</text>
<text x="109.60" y="797.90" font-size="11.0" text-anchor="end" textLength="11.00" lengthAdjust="spacingAndGlyphs">10</text>
<text x="158.30" y="961.50" font-size="10" text-anchor="middle" textLength="19.20" lengthAdjust="spacingAndGlyphs">CTL</text>
<text x="234.60" y="961.50" font-size="10" text-anchor="middle" textLength="29.20" lengthAdjust="spacingAndGlyphs">TOXO</text>
<rect x="340.40" y="820.30" width="143.50" height="74.20" fill="#d6d6d6" stroke="#222" stroke-width="0.95" rx="8" stroke-dasharray="2.1,1.0"/>
<text x="338.80" y="781.60" font-size="12.6" textLength="22.80" lengthAdjust="spacingAndGlyphs">IFN-</text>
<text x="360.90" y="781.60" font-size="12.6" style="font-family:Liberation Serif,serif" textLength="7.20" lengthAdjust="spacingAndGlyphs">γ</text>
<text x="368.50" y="776.30" font-size="9.2" font-weight="bold">+</text>
<text x="374.10" y="781.60" font-size="12.6" textLength="26.20" lengthAdjust="spacingAndGlyphs">CD4</text>
<text x="400.60" y="776.30" font-size="9.2" font-weight="bold">+</text>
<text transform="translate(306.60,867.90) rotate(-90)" x="0" y="0" font-size="10.9" text-anchor="middle" textLength="72.40" lengthAdjust="spacingAndGlyphs">Frequency (%)</text>
<text x="345.80" y="806.90" font-size="8.0" textLength="50.30" lengthAdjust="spacingAndGlyphs">Cut-off = 1.0%</text>
<line x1="341.20" y1="893.70" x2="491.60" y2="893.70" stroke="#8a8a8a" stroke-width="0.8" stroke-dasharray="2.6,2"/>
<rect x="364.30" y="894.80" width="25.90" height="20.00" fill="none" stroke="#222" stroke-width="0.95" rx="3.5" stroke-dasharray="2.1,1.0"/>
<circle cx="356.9" cy="893.9" r="2.1" fill="#fff" stroke="#262626" stroke-width="1.0"/>
<circle cx="363.9" cy="893.9" r="2.1" fill="#fff" stroke="#262626" stroke-width="1.0"/>
<circle cx="370.7" cy="896.0" r="2.1" fill="#fff" stroke="#262626" stroke-width="1.0"/>
<circle cx="377.7" cy="896.0" r="2.1" fill="#fff" stroke="#262626" stroke-width="1.0"/>
<circle cx="384.5" cy="896.0" r="2.1" fill="#fff" stroke="#262626" stroke-width="1.0"/>
<circle cx="391.4" cy="893.9" r="2.1" fill="#fff" stroke="#262626" stroke-width="1.0"/>
<circle cx="398.4" cy="889.8" r="2.1" fill="#fff" stroke="#262626" stroke-width="1.0"/>
<circle cx="377.7" cy="909.1" r="2.1" fill="#fff" stroke="#262626" stroke-width="1.0"/>
<circle cx="377.7" cy="873.5" r="2.1" fill="#fff" stroke="#262626" stroke-width="1.0"/>
<circle cx="377.7" cy="882.2" r="2.1" fill="#fff" stroke="#262626" stroke-width="1.0"/>
<circle cx="454.1" cy="823.4" r="2.3" fill="#000" stroke="#fff" stroke-width="0.35"/>
<circle cx="450.6" cy="832.5" r="2.3" fill="#000" stroke="#fff" stroke-width="0.35"/>
<circle cx="457.6" cy="833.9" r="2.3" fill="#000" stroke="#fff" stroke-width="0.35"/>
<circle cx="450.6" cy="845.2" r="2.3" fill="#000" stroke="#fff" stroke-width="0.35"/>
<circle cx="457.6" cy="845.2" r="2.3" fill="#000" stroke="#fff" stroke-width="0.35"/>
<circle cx="450.6" cy="856.7" r="2.3" fill="#000" stroke="#fff" stroke-width="0.35"/>
<circle cx="457.6" cy="857.8" r="2.3" fill="#000" stroke="#fff" stroke-width="0.35"/>
<circle cx="433.5" cy="867.3" r="2.3" fill="#000" stroke="#fff" stroke-width="0.35"/>
<circle cx="443.8" cy="865.6" r="2.3" fill="#000" stroke="#fff" stroke-width="0.35"/>
<circle cx="450.6" cy="865.6" r="2.3" fill="#000" stroke="#fff" stroke-width="0.35"/>
<circle cx="457.6" cy="866.7" r="2.3" fill="#000" stroke="#fff" stroke-width="0.35"/>
<circle cx="464.5" cy="865.6" r="2.3" fill="#000" stroke="#fff" stroke-width="0.35"/>
<circle cx="474.7" cy="867.3" r="2.3" fill="#000" stroke="#fff" stroke-width="0.35"/>
<circle cx="440.3" cy="868.8" r="2.3" fill="#000" stroke="#fff" stroke-width="0.35"/>
<circle cx="468.0" cy="868.8" r="2.3" fill="#000" stroke="#fff" stroke-width="0.35"/>
<circle cx="436.8" cy="872.7" r="2.3" fill="#000" stroke="#fff" stroke-width="0.35"/>
<circle cx="447.2" cy="870.3" r="2.3" fill="#000" stroke="#fff" stroke-width="0.35"/>
<circle cx="454.1" cy="871.1" r="2.3" fill="#000" stroke="#fff" stroke-width="0.35"/>
<circle cx="461.0" cy="871.1" r="2.3" fill="#000" stroke="#fff" stroke-width="0.35"/>
<circle cx="471.5" cy="874.4" r="2.3" fill="#000" stroke="#fff" stroke-width="0.35"/>
<circle cx="450.6" cy="872.7" r="2.3" fill="#000" stroke="#fff" stroke-width="0.35"/>
<circle cx="457.6" cy="872.7" r="2.3" fill="#000" stroke="#fff" stroke-width="0.35"/>
<circle cx="443.8" cy="875.5" r="2.3" fill="#000" stroke="#fff" stroke-width="0.35"/>
<circle cx="450.6" cy="875.5" r="2.3" fill="#000" stroke="#fff" stroke-width="0.35"/>
<circle cx="464.5" cy="875.5" r="2.3" fill="#000" stroke="#fff" stroke-width="0.35"/>
<circle cx="457.6" cy="878.5" r="2.3" fill="#000" stroke="#fff" stroke-width="0.35"/>
<circle cx="433.5" cy="882.0" r="2.3" fill="#000" stroke="#fff" stroke-width="0.35"/>
<circle cx="440.3" cy="883.4" r="2.3" fill="#000" stroke="#fff" stroke-width="0.35"/>
<circle cx="450.6" cy="880.8" r="2.3" fill="#000" stroke="#fff" stroke-width="0.35"/>
<circle cx="457.6" cy="882.0" r="2.3" fill="#000" stroke="#fff" stroke-width="0.35"/>
<circle cx="468.0" cy="883.4" r="2.3" fill="#000" stroke="#fff" stroke-width="0.35"/>
<circle cx="474.7" cy="883.4" r="2.3" fill="#000" stroke="#fff" stroke-width="0.35"/>
<circle cx="447.2" cy="884.8" r="2.3" fill="#000" stroke="#fff" stroke-width="0.35"/>
<circle cx="454.1" cy="886.3" r="2.3" fill="#000" stroke="#fff" stroke-width="0.35"/>
<circle cx="461.0" cy="886.3" r="2.3" fill="#000" stroke="#fff" stroke-width="0.35"/>
<circle cx="433.5" cy="889.8" r="2.3" fill="#000" stroke="#fff" stroke-width="0.35"/>
<circle cx="440.3" cy="893.7" r="2.3" fill="#000" stroke="#fff" stroke-width="0.35"/>
<circle cx="447.2" cy="893.7" r="2.3" fill="#000" stroke="#fff" stroke-width="0.35"/>
<circle cx="461.0" cy="893.7" r="2.3" fill="#000" stroke="#fff" stroke-width="0.35"/>
<circle cx="468.0" cy="891.8" r="2.3" fill="#000" stroke="#fff" stroke-width="0.35"/>
<circle cx="474.7" cy="889.8" r="2.3" fill="#000" stroke="#fff" stroke-width="0.35"/>
<circle cx="454.1" cy="896.2" r="2.3" fill="#f20000" stroke="#b00000" stroke-width="0.3"/>
<circle cx="454.1" cy="905.0" r="2.3" fill="#f20000" stroke="#b00000" stroke-width="0.3"/>
<text x="362.60" y="930.90" font-size="10.3" textLength="26.60" lengthAdjust="spacingAndGlyphs">04/10</text>
<text x="450.40" y="927.90" font-size="7.5" fill="#e3262b" textLength="20.80" lengthAdjust="spacingAndGlyphs">02/43</text>
<rect x="340.20" y="792.30" width="152.40" height="152.20" fill="none" stroke="#3c3c3c" stroke-width="1.25"/>
<line x1="336.00" y1="944.50" x2="340.20" y2="944.50" stroke="#3c3c3c" stroke-width="1.1"/>
<text x="334.90" y="943.50" font-size="6.6" text-anchor="end">-1</text>
<text x="327.20" y="947.80" font-size="11.0" text-anchor="end" textLength="11.00" lengthAdjust="spacingAndGlyphs">10</text>
<line x1="337.60" y1="929.23" x2="340.20" y2="929.23" stroke="#3c3c3c" stroke-width="1.0"/>
<line x1="337.60" y1="920.29" x2="340.20" y2="920.29" stroke="#3c3c3c" stroke-width="1.0"/>
<line x1="337.60" y1="913.96" x2="340.20" y2="913.96" stroke="#3c3c3c" stroke-width="1.0"/>
<line x1="337.60" y1="909.04" x2="340.20" y2="909.04" stroke="#3c3c3c" stroke-width="1.0"/>
<line x1="337.60" y1="905.02" x2="340.20" y2="905.02" stroke="#3c3c3c" stroke-width="1.0"/>
<line x1="337.60" y1="901.63" x2="340.20" y2="901.63" stroke="#3c3c3c" stroke-width="1.0"/>
<line x1="337.60" y1="898.68" x2="340.20" y2="898.68" stroke="#3c3c3c" stroke-width="1.0"/>
<line x1="337.60" y1="896.09" x2="340.20" y2="896.09" stroke="#3c3c3c" stroke-width="1.0"/>
<line x1="336.00" y1="893.77" x2="340.20" y2="893.77" stroke="#3c3c3c" stroke-width="1.1"/>
<text x="334.90" y="892.77" font-size="6.6" text-anchor="end">0</text>
<text x="329.40" y="897.07" font-size="11.0" text-anchor="end" textLength="11.00" lengthAdjust="spacingAndGlyphs">10</text>
<line x1="337.60" y1="878.49" x2="340.20" y2="878.49" stroke="#3c3c3c" stroke-width="1.0"/>
<line x1="337.60" y1="869.56" x2="340.20" y2="869.56" stroke="#3c3c3c" stroke-width="1.0"/>
<line x1="337.60" y1="863.22" x2="340.20" y2="863.22" stroke="#3c3c3c" stroke-width="1.0"/>
<line x1="337.60" y1="858.31" x2="340.20" y2="858.31" stroke="#3c3c3c" stroke-width="1.0"/>
<line x1="337.60" y1="854.29" x2="340.20" y2="854.29" stroke="#3c3c3c" stroke-width="1.0"/>
<line x1="337.60" y1="850.89" x2="340.20" y2="850.89" stroke="#3c3c3c" stroke-width="1.0"/>
<line x1="337.60" y1="847.95" x2="340.20" y2="847.95" stroke="#3c3c3c" stroke-width="1.0"/>
<line x1="337.60" y1="845.35" x2="340.20" y2="845.35" stroke="#3c3c3c" stroke-width="1.0"/>
<line x1="336.00" y1="843.03" x2="340.20" y2="843.03" stroke="#3c3c3c" stroke-width="1.1"/>
<text x="334.90" y="842.03" font-size="6.6" text-anchor="end">1</text>
<text x="329.40" y="846.33" font-size="11.0" text-anchor="end" textLength="11.00" lengthAdjust="spacingAndGlyphs">10</text>
<line x1="337.60" y1="827.76" x2="340.20" y2="827.76" stroke="#3c3c3c" stroke-width="1.0"/>
<line x1="337.60" y1="818.83" x2="340.20" y2="818.83" stroke="#3c3c3c" stroke-width="1.0"/>
<line x1="337.60" y1="812.49" x2="340.20" y2="812.49" stroke="#3c3c3c" stroke-width="1.0"/>
<line x1="337.60" y1="807.57" x2="340.20" y2="807.57" stroke="#3c3c3c" stroke-width="1.0"/>
<line x1="337.60" y1="803.56" x2="340.20" y2="803.56" stroke="#3c3c3c" stroke-width="1.0"/>
<line x1="337.60" y1="800.16" x2="340.20" y2="800.16" stroke="#3c3c3c" stroke-width="1.0"/>
<line x1="337.60" y1="797.22" x2="340.20" y2="797.22" stroke="#3c3c3c" stroke-width="1.0"/>
<line x1="337.60" y1="794.62" x2="340.20" y2="794.62" stroke="#3c3c3c" stroke-width="1.0"/>
<line x1="336.00" y1="792.30" x2="340.20" y2="792.30" stroke="#3c3c3c" stroke-width="1.1"/>
<text x="334.90" y="791.30" font-size="6.6" text-anchor="end">2</text>
<text x="329.40" y="795.60" font-size="11.0" text-anchor="end" textLength="11.00" lengthAdjust="spacingAndGlyphs">10</text>
<text x="377.70" y="958.80" font-size="10" text-anchor="middle" textLength="19.20" lengthAdjust="spacingAndGlyphs">CTL</text>
<text x="454.10" y="958.80" font-size="10" text-anchor="middle" textLength="29.20" lengthAdjust="spacingAndGlyphs">TOXO</text>
<path d="M411.70,819.80 L411.70,757.50 L609.80,757.50 L609.80,773.20" fill="none" stroke="#2a2a2a" stroke-width="0.9" stroke-dasharray="1.6,1.2"/>
<path d="M606.90,773.60 L612.70,773.60 L609.80,781.30 Z" fill="#111"/>
<text x="534.40" y="782.90" font-size="12.6" textLength="28.00" lengthAdjust="spacingAndGlyphs">IL-12</text>
<text x="562.40" y="777.60" font-size="9.2" font-weight="bold">+</text>
<text x="567.90" y="782.90" font-size="12.6" textLength="31.40" lengthAdjust="spacingAndGlyphs">MON</text>
<text x="537.20" y="808.20" font-size="8.0" textLength="50.30" lengthAdjust="spacingAndGlyphs">Cut-off = 1.0%</text>
<line x1="531.40" y1="894.10" x2="682.20" y2="894.10" stroke="#8a8a8a" stroke-width="0.8" stroke-dasharray="2.6,2"/>
<rect x="559.60" y="894.40" width="19.80" height="19.60" fill="none" stroke="#222" stroke-width="0.95" rx="3.43" stroke-dasharray="2.1,1.0"/>
<rect x="617.90" y="821.70" width="50.40" height="71.90" fill="none" stroke="#222" stroke-width="0.95" rx="6.5" stroke-dasharray="2.1,1.0"/>
<circle cx="565.1" cy="905.0" r="2.1" fill="#fff" stroke="#262626" stroke-width="1.0"/>
<circle cx="572.1" cy="901.5" r="2.1" fill="#fff" stroke="#262626" stroke-width="1.0"/>
<circle cx="568.6" cy="859.1" r="2.2" fill="#f40000" stroke="#1a0000" stroke-width="0.7"/>
<circle cx="568.6" cy="883.6" r="2.2" fill="#f40000" stroke="#1a0000" stroke-width="0.7"/>
<circle cx="565.1" cy="891.8" r="2.2" fill="#f40000" stroke="#1a0000" stroke-width="0.7"/>
<circle cx="572.1" cy="891.8" r="2.2" fill="#f40000" stroke="#1a0000" stroke-width="0.7"/>
<circle cx="645.0" cy="833.0" r="2.3" fill="#000" stroke="#fff" stroke-width="0.35"/>
<circle cx="641.6" cy="844.7" r="2.3" fill="#000" stroke="#fff" stroke-width="0.35"/>
<circle cx="648.4" cy="846.4" r="2.3" fill="#000" stroke="#fff" stroke-width="0.35"/>
<circle cx="641.6" cy="856.6" r="2.3" fill="#000" stroke="#fff" stroke-width="0.35"/>
<circle cx="648.4" cy="854.9" r="2.3" fill="#000" stroke="#fff" stroke-width="0.35"/>
<circle cx="641.6" cy="861.0" r="2.3" fill="#000" stroke="#fff" stroke-width="0.35"/>
<circle cx="648.4" cy="861.6" r="2.3" fill="#000" stroke="#fff" stroke-width="0.35"/>
<circle cx="627.8" cy="863.3" r="2.3" fill="#000" stroke="#fff" stroke-width="0.35"/>
<circle cx="634.8" cy="864.9" r="2.3" fill="#000" stroke="#fff" stroke-width="0.35"/>
<circle cx="655.2" cy="866.1" r="2.3" fill="#000" stroke="#fff" stroke-width="0.35"/>
<circle cx="662.2" cy="863.7" r="2.3" fill="#000" stroke="#fff" stroke-width="0.35"/>
<circle cx="641.6" cy="866.8" r="2.3" fill="#000" stroke="#fff" stroke-width="0.35"/>
<circle cx="648.4" cy="867.6" r="2.3" fill="#000" stroke="#fff" stroke-width="0.35"/>
<circle cx="641.6" cy="871.8" r="2.3" fill="#000" stroke="#fff" stroke-width="0.35"/>
<circle cx="648.4" cy="871.8" r="2.3" fill="#000" stroke="#fff" stroke-width="0.35"/>
<circle cx="627.8" cy="874.1" r="2.3" fill="#000" stroke="#fff" stroke-width="0.35"/>
<circle cx="634.8" cy="875.2" r="2.3" fill="#000" stroke="#fff" stroke-width="0.35"/>
<circle cx="641.6" cy="876.4" r="2.3" fill="#000" stroke="#fff" stroke-width="0.35"/>
<circle cx="648.4" cy="876.4" r="2.3" fill="#000" stroke="#fff" stroke-width="0.35"/>
<circle cx="655.2" cy="875.2" r="2.3" fill="#000" stroke="#fff" stroke-width="0.35"/>
<circle cx="662.2" cy="874.1" r="2.3" fill="#000" stroke="#fff" stroke-width="0.35"/>
<circle cx="627.8" cy="877.3" r="2.3" fill="#000" stroke="#fff" stroke-width="0.35"/>
<circle cx="634.8" cy="879.6" r="2.3" fill="#000" stroke="#fff" stroke-width="0.35"/>
<circle cx="655.2" cy="880.8" r="2.3" fill="#000" stroke="#fff" stroke-width="0.35"/>
<circle cx="662.2" cy="878.5" r="2.3" fill="#000" stroke="#fff" stroke-width="0.35"/>
<circle cx="641.6" cy="881.6" r="2.3" fill="#000" stroke="#fff" stroke-width="0.35"/>
<circle cx="648.4" cy="882.8" r="2.3" fill="#000" stroke="#fff" stroke-width="0.35"/>
<circle cx="641.6" cy="884.8" r="2.3" fill="#000" stroke="#fff" stroke-width="0.35"/>
<circle cx="648.4" cy="884.8" r="2.3" fill="#000" stroke="#fff" stroke-width="0.35"/>
<circle cx="624.3" cy="888.0" r="2.3" fill="#000" stroke="#fff" stroke-width="0.35"/>
<circle cx="631.3" cy="889.8" r="2.3" fill="#000" stroke="#fff" stroke-width="0.35"/>
<circle cx="638.3" cy="891.5" r="2.3" fill="#000" stroke="#fff" stroke-width="0.35"/>
<circle cx="645.1" cy="891.5" r="2.3" fill="#000" stroke="#fff" stroke-width="0.35"/>
<circle cx="651.7" cy="891.5" r="2.3" fill="#000" stroke="#fff" stroke-width="0.35"/>
<circle cx="658.7" cy="891.5" r="2.3" fill="#000" stroke="#fff" stroke-width="0.35"/>
<circle cx="665.5" cy="888.0" r="2.3" fill="#000" stroke="#fff" stroke-width="0.35"/>
<circle cx="641.6" cy="898.5" r="2.3" fill="#f20000" stroke="#b00000" stroke-width="0.3"/>
<circle cx="648.4" cy="901.5" r="2.3" fill="#f20000" stroke="#b00000" stroke-width="0.3"/>
<circle cx="638.3" cy="905.0" r="2.3" fill="#f20000" stroke="#b00000" stroke-width="0.3"/>
<circle cx="645.1" cy="909.0" r="2.3" fill="#f20000" stroke="#b00000" stroke-width="0.3"/>
<circle cx="651.7" cy="909.0" r="2.3" fill="#f20000" stroke="#b00000" stroke-width="0.3"/>
<text x="558.80" y="849.90" font-size="7.5" fill="#e3262b" textLength="20.00" lengthAdjust="spacingAndGlyphs">04/06</text>
<text x="555.60" y="930.70" font-size="10.3" textLength="26.30" lengthAdjust="spacingAndGlyphs">02/06</text>
<text x="634.60" y="815.50" font-size="10.3" textLength="25.50" lengthAdjust="spacingAndGlyphs">36/41</text>
<text x="638.70" y="930.70" font-size="7.5" fill="#e3262b" textLength="19.30" lengthAdjust="spacingAndGlyphs">05/41</text>
<rect x="530.40" y="792.40" width="152.80" height="151.80" fill="none" stroke="#3c3c3c" stroke-width="1.25"/>
<line x1="526.20" y1="944.20" x2="530.40" y2="944.20" stroke="#3c3c3c" stroke-width="1.1"/>
<text x="525.10" y="943.20" font-size="6.6" text-anchor="end">-1</text>
<text x="517.40" y="947.50" font-size="11.0" text-anchor="end" textLength="11.00" lengthAdjust="spacingAndGlyphs">10</text>
<line x1="527.80" y1="928.97" x2="530.40" y2="928.97" stroke="#3c3c3c" stroke-width="1.0"/>
<line x1="527.80" y1="920.06" x2="530.40" y2="920.06" stroke="#3c3c3c" stroke-width="1.0"/>
<line x1="527.80" y1="913.74" x2="530.40" y2="913.74" stroke="#3c3c3c" stroke-width="1.0"/>
<line x1="527.80" y1="908.83" x2="530.40" y2="908.83" stroke="#3c3c3c" stroke-width="1.0"/>
<line x1="527.80" y1="904.83" x2="530.40" y2="904.83" stroke="#3c3c3c" stroke-width="1.0"/>
<line x1="527.80" y1="901.44" x2="530.40" y2="901.44" stroke="#3c3c3c" stroke-width="1.0"/>
<line x1="527.80" y1="898.50" x2="530.40" y2="898.50" stroke="#3c3c3c" stroke-width="1.0"/>
<line x1="527.80" y1="895.92" x2="530.40" y2="895.92" stroke="#3c3c3c" stroke-width="1.0"/>
<line x1="526.20" y1="893.60" x2="530.40" y2="893.60" stroke="#3c3c3c" stroke-width="1.1"/>
<text x="525.10" y="892.60" font-size="6.6" text-anchor="end">0</text>
<text x="519.60" y="896.90" font-size="11.0" text-anchor="end" textLength="11.00" lengthAdjust="spacingAndGlyphs">10</text>
<line x1="527.80" y1="878.37" x2="530.40" y2="878.37" stroke="#3c3c3c" stroke-width="1.0"/>
<line x1="527.80" y1="869.46" x2="530.40" y2="869.46" stroke="#3c3c3c" stroke-width="1.0"/>
<line x1="527.80" y1="863.14" x2="530.40" y2="863.14" stroke="#3c3c3c" stroke-width="1.0"/>
<line x1="527.80" y1="858.23" x2="530.40" y2="858.23" stroke="#3c3c3c" stroke-width="1.0"/>
<line x1="527.80" y1="854.23" x2="530.40" y2="854.23" stroke="#3c3c3c" stroke-width="1.0"/>
<line x1="527.80" y1="850.84" x2="530.40" y2="850.84" stroke="#3c3c3c" stroke-width="1.0"/>
<line x1="527.80" y1="847.90" x2="530.40" y2="847.90" stroke="#3c3c3c" stroke-width="1.0"/>
<line x1="527.80" y1="845.32" x2="530.40" y2="845.32" stroke="#3c3c3c" stroke-width="1.0"/>
<line x1="526.20" y1="843.00" x2="530.40" y2="843.00" stroke="#3c3c3c" stroke-width="1.1"/>
<text x="525.10" y="842.00" font-size="6.6" text-anchor="end">1</text>
<text x="519.60" y="846.30" font-size="11.0" text-anchor="end" textLength="11.00" lengthAdjust="spacingAndGlyphs">10</text>
<line x1="527.80" y1="827.77" x2="530.40" y2="827.77" stroke="#3c3c3c" stroke-width="1.0"/>
<line x1="527.80" y1="818.86" x2="530.40" y2="818.86" stroke="#3c3c3c" stroke-width="1.0"/>
<line x1="527.80" y1="812.54" x2="530.40" y2="812.54" stroke="#3c3c3c" stroke-width="1.0"/>
<line x1="527.80" y1="807.63" x2="530.40" y2="807.63" stroke="#3c3c3c" stroke-width="1.0"/>
<line x1="527.80" y1="803.63" x2="530.40" y2="803.63" stroke="#3c3c3c" stroke-width="1.0"/>
<line x1="527.80" y1="800.24" x2="530.40" y2="800.24" stroke="#3c3c3c" stroke-width="1.0"/>
<line x1="527.80" y1="797.30" x2="530.40" y2="797.30" stroke="#3c3c3c" stroke-width="1.0"/>
<line x1="527.80" y1="794.72" x2="530.40" y2="794.72" stroke="#3c3c3c" stroke-width="1.0"/>
<line x1="526.20" y1="792.40" x2="530.40" y2="792.40" stroke="#3c3c3c" stroke-width="1.1"/>
<text x="525.10" y="791.40" font-size="6.6" text-anchor="end">2</text>
<text x="519.60" y="795.70" font-size="11.0" text-anchor="end" textLength="11.00" lengthAdjust="spacingAndGlyphs">10</text>
<text x="568.60" y="958.80" font-size="10" text-anchor="middle" textLength="19.20" lengthAdjust="spacingAndGlyphs">CTL</text>
<text x="645.00" y="958.80" font-size="10" text-anchor="middle" textLength="29.20" lengthAdjust="spacingAndGlyphs">TOXO</text>
<rect x="106.00" y="988.60" width="173.50" height="31.00" fill="#d6d6d6"/>
<line x1="106.00" y1="988.60" x2="279.50" y2="988.60" stroke="#555" stroke-width="1.1"/>
<line x1="105.20" y1="1019.60" x2="279.90" y2="1019.60" stroke="#5e5e5e" stroke-width="1.4"/>
<text x="143.80" y="1001.00" font-size="10.2" textLength="108.50" lengthAdjust="spacingAndGlyphs">Discriminant  Analysis</text>
<text x="199.90" y="1013.60" text-anchor="middle" textLength="46.30" lengthAdjust="spacingAndGlyphs"><tspan font-size="8.4">IFN-γ</tspan><tspan font-size="6.05" dy="-3.53">+</tspan><tspan font-size="8.4" dy="3.53">CD4</tspan><tspan font-size="6.05" dy="-3.53">+</tspan></text>
<text x="175.70" y="1038.40" font-size="12.4" textLength="55.80" lengthAdjust="spacingAndGlyphs">Classified</text>
<line x1="157.80" y1="1044.20" x2="243.90" y2="1044.20" stroke="#9a9a9a" stroke-width="1.6"/>
<text x="111.40" y="1045.70" font-size="11.3" textLength="37.00" lengthAdjust="spacingAndGlyphs">Groups</text>
<text x="175.70" y="1055.30" font-size="10.4" textLength="17.20" lengthAdjust="spacingAndGlyphs">CTL</text>
<text x="217.40" y="1055.30" font-size="10.4" textLength="26.60" lengthAdjust="spacingAndGlyphs">TOXO</text>
<text transform="translate(119.80,1081.00) rotate(-90)" x="0" y="0" font-size="12.3" text-anchor="middle" textLength="43.20" lengthAdjust="spacingAndGlyphs">Original</text>
<line x1="125.70" y1="1059.40" x2="125.70" y2="1103.20" stroke="#3a3a3a" stroke-width="0.9"/>
<text x="134.20" y="1074.00" font-size="10.0" textLength="17.60" lengthAdjust="spacingAndGlyphs">CTL</text>
<text x="130.40" y="1099.10" font-size="10.0" textLength="25.90" lengthAdjust="spacingAndGlyphs">TOXO</text>
<text x="162.50" y="1074.00" font-weight="bold" textLength="44.20" lengthAdjust="spacingAndGlyphs"><tspan font-size="10.3">80%</tspan><tspan font-size="7.8">(08/10)</tspan></text>
<text x="215.10" y="1074.00" textLength="43.60" lengthAdjust="spacingAndGlyphs"><tspan font-size="10.3">17%</tspan><tspan font-size="7.8">(08/43)</tspan></text>
<text x="161.40" y="1099.10" textLength="44.20" lengthAdjust="spacingAndGlyphs"><tspan font-size="10.3">20%</tspan><tspan font-size="7.8">(02/10)</tspan></text>
<text x="214.50" y="1099.10" font-weight="bold" textLength="43.60" lengthAdjust="spacingAndGlyphs"><tspan font-size="10.3">83%</tspan><tspan font-size="7.8">(35/43)</tspan></text>
<line x1="106.10" y1="1109.90" x2="279.50" y2="1109.90" stroke="#7a7a7a" stroke-width="1.3"/>
<text x="181.50" y="1120.10" textLength="81.60" lengthAdjust="spacingAndGlyphs"><tspan font-size="9.2">Accuracy: 81%</tspan><tspan font-size="7.2">(43/53)</tspan></text>
<rect x="433.00" y="988.60" width="173.90" height="31.00" fill="#d6d6d6"/>
<line x1="433.00" y1="988.60" x2="606.90" y2="988.60" stroke="#555" stroke-width="1.1"/>
<line x1="432.20" y1="1019.60" x2="607.30" y2="1019.60" stroke="#5e5e5e" stroke-width="1.4"/>
<text x="471.80" y="1001.00" font-size="10.2" textLength="108.50" lengthAdjust="spacingAndGlyphs">Discriminant  Analysis</text>
<text x="526.20" y="1013.60" text-anchor="middle" textLength="95.50" lengthAdjust="spacingAndGlyphs"><tspan font-size="8.4">IFN-γ</tspan><tspan font-size="6.05" dy="-3.53">+</tspan><tspan font-size="8.4" dy="3.53">CD4</tspan><tspan font-size="6.05" dy="-3.53">+</tspan><tspan font-size="10.92" style="font-family:Liberation Mono,monospace" dy="2.33">→</tspan><tspan font-size="8.4" dy="1.20">IL-12</tspan><tspan font-size="6.05" dy="-3.53">+</tspan><tspan font-size="8.4" dy="3.53">MON</tspan></text>
<text x="502.70" y="1038.40" font-size="12.4" textLength="55.80" lengthAdjust="spacingAndGlyphs">Classified</text>
<line x1="484.80" y1="1044.20" x2="570.90" y2="1044.20" stroke="#9a9a9a" stroke-width="1.6"/>
<text x="438.40" y="1045.70" font-size="11.3" textLength="37.00" lengthAdjust="spacingAndGlyphs">Groups</text>
<text x="502.70" y="1055.30" font-size="10.4" textLength="17.20" lengthAdjust="spacingAndGlyphs">CTL</text>
<text x="544.40" y="1055.30" font-size="10.4" textLength="26.60" lengthAdjust="spacingAndGlyphs">TOXO</text>
<text transform="translate(446.80,1081.00) rotate(-90)" x="0" y="0" font-size="12.3" text-anchor="middle" textLength="43.20" lengthAdjust="spacingAndGlyphs">Original</text>
<line x1="452.70" y1="1059.40" x2="452.70" y2="1103.20" stroke="#3a3a3a" stroke-width="0.9"/>
<text x="461.20" y="1074.00" font-size="10.0" textLength="17.60" lengthAdjust="spacingAndGlyphs">CTL</text>
<text x="457.40" y="1099.10" font-size="10.0" textLength="25.90" lengthAdjust="spacingAndGlyphs">TOXO</text>
<text x="489.50" y="1074.00" font-weight="bold" textLength="44.20" lengthAdjust="spacingAndGlyphs"><tspan font-size="10.3">60%</tspan><tspan font-size="7.8">(06/10)</tspan></text>
<text x="542.10" y="1074.00" textLength="43.60" lengthAdjust="spacingAndGlyphs"><tspan font-size="10.3">16%</tspan><tspan font-size="7.8">(07/43)</tspan></text>
<text x="488.40" y="1099.10" textLength="44.20" lengthAdjust="spacingAndGlyphs"><tspan font-size="10.3">40%</tspan><tspan font-size="7.8">(04/10)</tspan></text>
<text x="541.50" y="1099.10" font-weight="bold" textLength="43.60" lengthAdjust="spacingAndGlyphs"><tspan font-size="10.3">84%</tspan><tspan font-size="7.8">(36/43)</tspan></text>
<line x1="433.10" y1="1109.90" x2="606.90" y2="1109.90" stroke="#7a7a7a" stroke-width="1.3"/>
<text x="497.20" y="1120.10" textLength="81.90" lengthAdjust="spacingAndGlyphs"><tspan font-size="9.2">Accuracy: 80%</tspan><tspan font-size="7.2">(42/53)</tspan></text>
</svg></body></html>
